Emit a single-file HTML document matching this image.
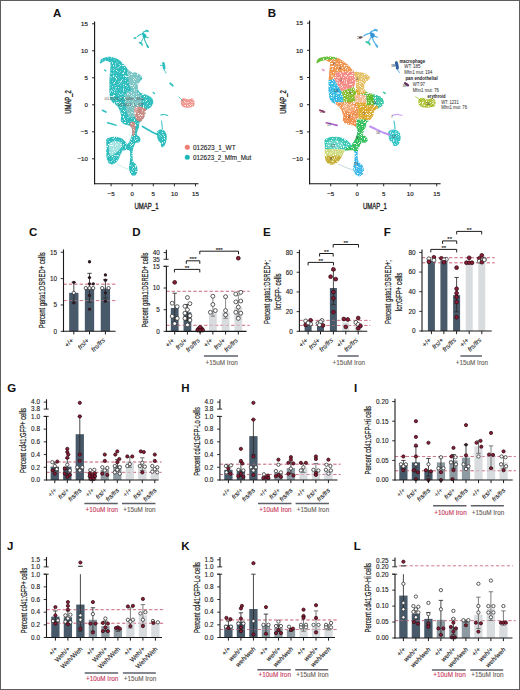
<!DOCTYPE html>
<html><head><meta charset="utf-8"><style>
html,body{margin:0;padding:0;background:#fff;width:520px;height:690px;overflow:hidden}
svg{display:block}
text{font-family:"Liberation Sans", sans-serif}
</style></head><body>
<svg width="520" height="690" viewBox="0 0 520 690">
<rect x="0.5" y="0.5" width="519" height="689" fill="#fff" stroke="#5e5e5e" stroke-width="1"/>
<clipPath id="clipA"><path d="M100.00 63.80 C99.72 63.48 99.88 61.43 100.30 60.50 C100.72 59.57 101.55 58.75 102.50 58.20 C103.45 57.65 104.58 57.42 106.00 57.20 C107.42 56.98 109.42 56.77 111.00 56.90 C112.58 57.03 113.92 57.32 115.50 58.00 C117.08 58.68 118.92 59.75 120.50 61.00 C122.08 62.25 123.67 64.00 125.00 65.50 C126.33 67.00 127.42 68.92 128.50 70.00 C129.58 71.08 130.33 71.57 131.50 72.00 C132.67 72.43 134.17 72.18 135.50 72.60 C136.83 73.02 138.37 73.60 139.50 74.50 C140.63 75.40 142.22 76.83 142.30 78.00 C142.38 79.17 140.72 80.42 140.00 81.50 C139.28 82.58 138.33 83.25 138.00 84.50 C137.67 85.75 137.67 87.67 138.00 89.00 C138.33 90.33 138.92 91.63 140.00 92.50 C141.08 93.37 143.08 93.70 144.50 94.20 C145.92 94.70 147.20 94.78 148.50 95.50 C149.80 96.22 151.50 97.17 152.30 98.50 C153.10 99.83 153.60 102.00 153.30 103.50 C153.00 105.00 151.72 106.33 150.50 107.50 C149.28 108.67 146.92 109.17 146.00 110.50 C145.08 111.83 145.67 113.83 145.00 115.50 C144.33 117.17 142.92 119.25 142.00 120.50 C141.08 121.75 140.00 121.92 139.50 123.00 C139.00 124.08 139.33 125.67 139.00 127.00 C138.67 128.33 137.83 129.75 137.50 131.00 C137.17 132.25 136.67 133.50 137.00 134.50 C137.33 135.50 138.92 136.00 139.50 137.00 C140.08 138.00 140.67 139.58 140.50 140.50 C140.33 141.42 139.33 142.08 138.50 142.50 C137.67 142.92 136.25 142.33 135.50 143.00 C134.75 143.67 134.45 145.33 134.00 146.50 C133.55 147.67 133.03 148.25 132.80 150.00 C132.57 151.75 132.48 155.00 132.60 157.00 C132.72 159.00 132.93 160.75 133.50 162.00 C134.07 163.25 135.33 163.33 136.00 164.50 C136.67 165.67 137.42 167.42 137.50 169.00 C137.58 170.58 137.17 172.83 136.50 174.00 C135.83 175.17 134.50 176.08 133.50 176.00 C132.50 175.92 131.25 174.83 130.50 173.50 C129.75 172.17 129.12 169.92 129.00 168.00 C128.88 166.08 129.60 164.17 129.80 162.00 C130.00 159.83 130.25 156.92 130.20 155.00 C130.15 153.08 130.12 151.33 129.50 150.50 C128.88 149.67 127.58 150.00 126.50 150.00 C125.42 150.00 123.17 151.17 123.00 150.50 C122.83 149.83 124.58 147.25 125.50 146.00 C126.42 144.75 127.67 144.17 128.50 143.00 C129.33 141.83 129.92 140.50 130.50 139.00 C131.08 137.50 131.75 135.67 132.00 134.00 C132.25 132.33 132.33 130.33 132.00 129.00 C131.67 127.67 131.17 126.75 130.00 126.00 C128.83 125.25 126.50 125.25 125.00 124.50 C123.50 123.75 121.67 122.92 121.00 121.50 C120.33 120.08 121.25 117.92 121.00 116.00 C120.75 114.08 120.25 111.75 119.50 110.00 C118.75 108.25 117.83 106.92 116.50 105.50 C115.17 104.08 112.62 103.08 111.50 101.50 C110.38 99.92 110.17 98.42 109.80 96.00 C109.43 93.58 109.32 90.33 109.30 87.00 C109.28 83.67 109.50 79.50 109.70 76.00 C109.90 72.50 110.42 68.13 110.50 66.00 C110.58 63.87 110.62 63.98 110.20 63.20 C109.78 62.42 108.95 61.63 108.00 61.30 C107.05 60.97 105.50 61.02 104.50 61.20 C103.50 61.38 102.75 61.97 102.00 62.40 C101.25 62.83 100.28 64.12 100.00 63.80Z"/><path d="M106.20 140.00 C106.53 138.42 107.67 138.52 108.50 138.00 C109.33 137.48 109.70 137.08 111.20 136.90 C112.70 136.72 115.70 136.63 117.50 136.90 C119.30 137.17 120.75 137.78 122.00 138.50 C123.25 139.22 124.08 140.12 125.00 141.20 C125.92 142.28 127.42 143.95 127.50 145.00 C127.58 146.05 126.33 146.58 125.50 147.50 C124.67 148.42 123.42 149.05 122.50 150.50 C121.58 151.95 121.05 154.20 120.00 156.20 C118.95 158.20 117.67 161.13 116.20 162.50 C114.73 163.87 112.65 164.62 111.20 164.40 C109.75 164.18 108.33 162.97 107.50 161.20 C106.67 159.43 106.37 156.08 106.20 153.80 C106.03 151.52 106.50 149.80 106.50 147.50 C106.50 145.20 105.87 141.58 106.20 140.00Z"/><path d="M157.50 131.00 C158.25 130.08 160.17 129.33 161.50 129.50 C162.83 129.67 164.62 130.75 165.50 132.00 C166.38 133.25 166.72 135.33 166.80 137.00 C166.88 138.67 166.47 140.42 166.00 142.00 C165.53 143.58 164.75 145.67 164.00 146.50 C163.25 147.33 162.08 147.58 161.50 147.00 C160.92 146.42 161.08 144.17 160.50 143.00 C159.92 141.83 158.58 141.33 158.00 140.00 C157.42 138.67 157.08 136.50 157.00 135.00 C156.92 133.50 156.75 131.92 157.50 131.00Z"/><path d="M181.10 100.00 C181.52 98.75 182.85 98.08 184.00 98.00 C185.15 97.92 186.67 99.42 188.00 99.50 C189.33 99.58 190.93 98.25 192.00 98.50 C193.07 98.75 194.07 99.75 194.40 101.00 C194.73 102.25 194.73 104.92 194.00 106.00 C193.27 107.08 191.50 107.25 190.00 107.50 C188.50 107.75 186.42 107.83 185.00 107.50 C183.58 107.17 182.15 106.75 181.50 105.50 C180.85 104.25 180.68 101.25 181.10 100.00Z"/></clipPath>
<filter id="spkA" x="0" y="0" width="1" height="1"><feTurbulence type="fractalNoise" baseFrequency="0.9" numOctaves="2" seed="3" result="n"/><feColorMatrix in="n" type="matrix" values="0 0 0 0 0  0 0 0 0 0  0 0 0 0 0  0 0 0 -5 3.8" result="m"/><feComposite in="SourceGraphic" in2="m" operator="in"/></filter>
<g filter="url(#spkA)">
<path d="M100.00 63.80 C99.72 63.48 99.88 61.43 100.30 60.50 C100.72 59.57 101.55 58.75 102.50 58.20 C103.45 57.65 104.58 57.42 106.00 57.20 C107.42 56.98 109.42 56.77 111.00 56.90 C112.58 57.03 113.92 57.32 115.50 58.00 C117.08 58.68 118.92 59.75 120.50 61.00 C122.08 62.25 123.67 64.00 125.00 65.50 C126.33 67.00 127.42 68.92 128.50 70.00 C129.58 71.08 130.33 71.57 131.50 72.00 C132.67 72.43 134.17 72.18 135.50 72.60 C136.83 73.02 138.37 73.60 139.50 74.50 C140.63 75.40 142.22 76.83 142.30 78.00 C142.38 79.17 140.72 80.42 140.00 81.50 C139.28 82.58 138.33 83.25 138.00 84.50 C137.67 85.75 137.67 87.67 138.00 89.00 C138.33 90.33 138.92 91.63 140.00 92.50 C141.08 93.37 143.08 93.70 144.50 94.20 C145.92 94.70 147.20 94.78 148.50 95.50 C149.80 96.22 151.50 97.17 152.30 98.50 C153.10 99.83 153.60 102.00 153.30 103.50 C153.00 105.00 151.72 106.33 150.50 107.50 C149.28 108.67 146.92 109.17 146.00 110.50 C145.08 111.83 145.67 113.83 145.00 115.50 C144.33 117.17 142.92 119.25 142.00 120.50 C141.08 121.75 140.00 121.92 139.50 123.00 C139.00 124.08 139.33 125.67 139.00 127.00 C138.67 128.33 137.83 129.75 137.50 131.00 C137.17 132.25 136.67 133.50 137.00 134.50 C137.33 135.50 138.92 136.00 139.50 137.00 C140.08 138.00 140.67 139.58 140.50 140.50 C140.33 141.42 139.33 142.08 138.50 142.50 C137.67 142.92 136.25 142.33 135.50 143.00 C134.75 143.67 134.45 145.33 134.00 146.50 C133.55 147.67 133.03 148.25 132.80 150.00 C132.57 151.75 132.48 155.00 132.60 157.00 C132.72 159.00 132.93 160.75 133.50 162.00 C134.07 163.25 135.33 163.33 136.00 164.50 C136.67 165.67 137.42 167.42 137.50 169.00 C137.58 170.58 137.17 172.83 136.50 174.00 C135.83 175.17 134.50 176.08 133.50 176.00 C132.50 175.92 131.25 174.83 130.50 173.50 C129.75 172.17 129.12 169.92 129.00 168.00 C128.88 166.08 129.60 164.17 129.80 162.00 C130.00 159.83 130.25 156.92 130.20 155.00 C130.15 153.08 130.12 151.33 129.50 150.50 C128.88 149.67 127.58 150.00 126.50 150.00 C125.42 150.00 123.17 151.17 123.00 150.50 C122.83 149.83 124.58 147.25 125.50 146.00 C126.42 144.75 127.67 144.17 128.50 143.00 C129.33 141.83 129.92 140.50 130.50 139.00 C131.08 137.50 131.75 135.67 132.00 134.00 C132.25 132.33 132.33 130.33 132.00 129.00 C131.67 127.67 131.17 126.75 130.00 126.00 C128.83 125.25 126.50 125.25 125.00 124.50 C123.50 123.75 121.67 122.92 121.00 121.50 C120.33 120.08 121.25 117.92 121.00 116.00 C120.75 114.08 120.25 111.75 119.50 110.00 C118.75 108.25 117.83 106.92 116.50 105.50 C115.17 104.08 112.62 103.08 111.50 101.50 C110.38 99.92 110.17 98.42 109.80 96.00 C109.43 93.58 109.32 90.33 109.30 87.00 C109.28 83.67 109.50 79.50 109.70 76.00 C109.90 72.50 110.42 68.13 110.50 66.00 C110.58 63.87 110.62 63.98 110.20 63.20 C109.78 62.42 108.95 61.63 108.00 61.30 C107.05 60.97 105.50 61.02 104.50 61.20 C103.50 61.38 102.75 61.97 102.00 62.40 C101.25 62.83 100.28 64.12 100.00 63.80Z" fill="#1cb8b8" opacity="0.92"/>
<path d="M106.20 140.00 C106.53 138.42 107.67 138.52 108.50 138.00 C109.33 137.48 109.70 137.08 111.20 136.90 C112.70 136.72 115.70 136.63 117.50 136.90 C119.30 137.17 120.75 137.78 122.00 138.50 C123.25 139.22 124.08 140.12 125.00 141.20 C125.92 142.28 127.42 143.95 127.50 145.00 C127.58 146.05 126.33 146.58 125.50 147.50 C124.67 148.42 123.42 149.05 122.50 150.50 C121.58 151.95 121.05 154.20 120.00 156.20 C118.95 158.20 117.67 161.13 116.20 162.50 C114.73 163.87 112.65 164.62 111.20 164.40 C109.75 164.18 108.33 162.97 107.50 161.20 C106.67 159.43 106.37 156.08 106.20 153.80 C106.03 151.52 106.50 149.80 106.50 147.50 C106.50 145.20 105.87 141.58 106.20 140.00Z" fill="#1cb8b8" opacity="0.92"/>
<path d="M157.50 131.00 C158.25 130.08 160.17 129.33 161.50 129.50 C162.83 129.67 164.62 130.75 165.50 132.00 C166.38 133.25 166.72 135.33 166.80 137.00 C166.88 138.67 166.47 140.42 166.00 142.00 C165.53 143.58 164.75 145.67 164.00 146.50 C163.25 147.33 162.08 147.58 161.50 147.00 C160.92 146.42 161.08 144.17 160.50 143.00 C159.92 141.83 158.58 141.33 158.00 140.00 C157.42 138.67 157.08 136.50 157.00 135.00 C156.92 133.50 156.75 131.92 157.50 131.00Z" fill="#1cb8b8" opacity="0.92"/>
<g clip-path="url(#clipA)">
<path d="M134.50 107.50 C135.58 106.13 139.00 106.47 141.00 106.80 C143.00 107.13 145.58 107.97 146.50 109.50 C147.42 111.03 147.00 114.17 146.50 116.00 C146.00 117.83 145.00 119.67 143.50 120.50 C142.00 121.33 139.00 121.92 137.50 121.00 C136.00 120.08 135.00 117.25 134.50 115.00 C134.00 112.75 133.42 108.87 134.50 107.50Z" fill="#ef7d73" opacity="0.8"/>
<path d="M130.00 123.00 C130.67 121.58 133.58 121.50 134.50 122.50 C135.42 123.50 135.67 126.75 135.50 129.00 C135.33 131.25 134.33 135.67 133.50 136.00 C132.67 136.33 131.08 133.17 130.50 131.00 C129.92 128.83 129.33 124.42 130.00 123.00Z" fill="#ef7d73" opacity="0.8"/>
<path d="M176.00 94.00 C180.00 91.00 196.00 91.00 200.00 94.00 C204.00 97.00 204.00 109.00 200.00 112.00 C196.00 115.00 180.00 115.00 176.00 112.00 C172.00 109.00 172.00 97.00 176.00 94.00Z" fill="#ef7d73" opacity="0.8"/>
<path d="M126.00 93.00 C127.25 90.83 130.67 90.83 133.00 91.00 C135.33 91.17 138.58 92.00 140.00 94.00 C141.42 96.00 141.83 100.50 141.50 103.00 C141.17 105.50 139.25 106.67 138.00 109.00 C136.75 111.33 135.67 116.00 134.00 117.00 C132.33 118.00 129.42 117.17 128.00 115.00 C126.58 112.83 125.83 107.67 125.50 104.00 C125.17 100.33 124.75 95.17 126.00 93.00Z" fill="#f6d0d0" opacity="0.4"/>
<path d="M127.50 69.00 C127.92 67.67 129.58 71.40 131.00 72.00 C132.42 72.60 134.33 71.93 136.00 72.60 C137.67 73.27 140.50 74.10 141.00 76.00 C141.50 77.90 139.42 81.67 139.00 84.00 C138.58 86.33 139.25 88.75 138.50 90.00 C137.75 91.25 135.83 91.83 134.50 91.50 C133.17 91.17 131.50 89.92 130.50 88.00 C129.50 86.08 129.00 83.17 128.50 80.00 C128.00 76.83 127.08 70.33 127.50 69.00Z" fill="#f6d0d0" opacity="0.4"/>
<path d="M109.50 143.50 C110.50 142.00 113.00 141.08 115.00 141.00 C117.00 140.92 120.58 141.75 121.50 143.00 C122.42 144.25 121.58 146.75 120.50 148.50 C119.42 150.25 116.67 152.25 115.00 153.50 C113.33 154.75 111.50 156.58 110.50 156.00 C109.50 155.42 109.17 152.08 109.00 150.00 C108.83 147.92 108.50 145.00 109.50 143.50Z" fill="#fff" opacity="0.55"/>
</g>
</g>
</g>
<path d="M137.50 36.50 C137.88 36.22 138.88 35.27 139.80 34.80 C140.72 34.33 142.27 33.50 143.00 33.70 C143.73 33.90 143.33 35.33 144.20 36.00 C145.07 36.67 147.53 37.42 148.20 37.70" fill="none" stroke="#1cb8b8" stroke-width="1.10" stroke-linecap="round" stroke-linejoin="round" opacity="0.9"/>
<path d="M147.00 30.80 C146.33 31.08 143.47 31.63 143.00 32.50 C142.53 33.37 143.92 34.75 144.20 36.00 C144.48 37.25 144.32 38.67 144.70 40.00 C145.08 41.33 145.92 42.75 146.50 44.00 C147.08 45.25 147.92 46.92 148.20 47.50" fill="none" stroke="#1cb8b8" stroke-width="1.10" stroke-linecap="round" stroke-linejoin="round" opacity="0.9"/>
<path d="M144.20 36.00 C143.92 36.58 143.10 38.28 142.50 39.50 C141.90 40.72 140.92 42.67 140.60 43.30" fill="none" stroke="#1cb8b8" stroke-width="1.00" stroke-linecap="round" stroke-linejoin="round" opacity="0.9"/>
<path d="M143.20 34.20 C143.53 34.37 144.98 34.70 145.20 35.20 C145.42 35.70 144.78 37.03 144.50 37.20 C144.22 37.37 143.67 36.37 143.50 36.20" fill="none" stroke="#1cb8b8" stroke-width="2.20" stroke-linecap="round" stroke-linejoin="round" opacity="0.9"/>
<path d="M146.20 30.50 L148.00 31.20" fill="none" stroke="#1cb8b8" stroke-width="1.80" stroke-linecap="round" stroke-linejoin="round" opacity="0.9"/>
<path d="M147.20 45.50 L148.20 47.20" fill="none" stroke="#1cb8b8" stroke-width="1.60" stroke-linecap="round" stroke-linejoin="round" opacity="0.9"/>
<path d="M134.30 38.20 L135.80 37.80" fill="none" stroke="#1cb8b8" stroke-width="1.60" stroke-linecap="round" stroke-linejoin="round" opacity="0.9"/>
<path d="M139.50 42.50 C139.83 42.67 141.05 43.08 141.50 43.50 C141.95 43.92 142.08 44.75 142.20 45.00" fill="none" stroke="#1cb8b8" stroke-width="1.60" stroke-linecap="round" stroke-linejoin="round" opacity="0.9"/>
<path d="M160.30 65.30 C160.62 65.35 161.67 65.48 162.20 65.60 C162.73 65.72 163.28 65.93 163.50 66.00" fill="none" stroke="#1cb8b8" stroke-width="0.90" stroke-linecap="round" stroke-linejoin="round" opacity="0.9"/>
<path d="M164.00 69.50 C164.17 69.80 164.67 70.72 165.00 71.30 C165.33 71.88 165.83 72.72 166.00 73.00" fill="none" stroke="#1cb8b8" stroke-width="0.90" stroke-linecap="round" stroke-linejoin="round" opacity="0.9"/>
<path d="M163.40 63.20 C163.48 63.63 163.77 64.95 163.90 65.80 C164.03 66.65 164.15 67.88 164.20 68.30" fill="none" stroke="#1cb8b8" stroke-width="2.60" stroke-linecap="round" stroke-linejoin="round" opacity="0.9"/>
<path d="M160.80 115.00 C161.37 114.92 163.03 114.42 164.20 114.50 C165.37 114.58 167.20 115.33 167.80 115.50" fill="none" stroke="#1cb8b8" stroke-width="1.10" stroke-linecap="round" stroke-linejoin="round" opacity="0.9"/>
<path d="M102.50 110.30 C102.83 110.45 103.92 110.92 104.50 111.20 C105.08 111.48 105.75 111.87 106.00 112.00" fill="none" stroke="#1cb8b8" stroke-width="1.70" stroke-linecap="round" stroke-linejoin="round" opacity="0.9"/>
<path d="M107.50 122.80 C108.25 123.00 110.55 123.58 112.00 124.00 C113.45 124.42 115.50 125.08 116.20 125.30" fill="none" stroke="#1cb8b8" stroke-width="1.40" stroke-linecap="round" stroke-linejoin="round" opacity="0.9"/>
<path d="M142.50 126.50 C143.17 126.88 144.92 127.88 146.50 128.80 C148.08 129.72 150.08 131.03 152.00 132.00 C153.92 132.97 157.00 134.17 158.00 134.60" fill="none" stroke="#1cb8b8" stroke-width="1.80" stroke-linecap="round" stroke-linejoin="round" opacity="0.9"/>
<path d="M161.50 121.00 C161.58 121.67 161.87 123.67 162.00 125.00 C162.13 126.33 162.25 128.33 162.30 129.00" fill="none" stroke="#1cb8b8" stroke-width="1.00" stroke-linecap="round" stroke-linejoin="round" opacity="0.9"/>
<path d="M117.50 163.80 C118.42 164.33 120.92 165.97 123.00 167.00 C125.08 168.03 128.83 169.50 130.00 170.00" fill="none" stroke="#8cc" stroke-width="0.45" stroke-linecap="round" stroke-linejoin="round" opacity="0.9"/>
<path d="M104.50 70.00 L105.80 70.80" fill="none" stroke="#1cb8b8" stroke-width="1.40" stroke-linecap="round" stroke-linejoin="round" opacity="0.9"/>
<path d="M153.20 92.50 L154.50 93.60" fill="none" stroke="#1cb8b8" stroke-width="1.30" stroke-linecap="round" stroke-linejoin="round" opacity="0.9"/>
<path d="M170.30 83.40 C170.52 83.58 171.20 84.13 171.60 84.50 C172.00 84.87 172.52 85.42 172.70 85.60" fill="none" stroke="#1cb8b8" stroke-width="2.00" stroke-linecap="round" stroke-linejoin="round" opacity="0.9"/>
<path d="M178.80 97.00 C179.08 97.25 179.88 97.92 180.50 98.50 C181.12 99.08 182.17 100.17 182.50 100.50" fill="none" stroke="#1aa" stroke-width="0.80" stroke-linecap="round" stroke-linejoin="round" opacity="0.9"/>
<line x1="94.60" y1="21.50" x2="94.60" y2="184.20" stroke="#111" stroke-width="1.1"/>
<line x1="94.10" y1="183.70" x2="198.50" y2="183.70" stroke="#111" stroke-width="1.1"/>
<line x1="111.10" y1="183.70" x2="111.10" y2="186.30" stroke="#111" stroke-width="0.9"/>
<text x="111.10" y="196.00" font-size="6.1" text-anchor="middle" fill="#222" stroke="#222" stroke-width="0.18">−5</text>
<line x1="132.20" y1="183.70" x2="132.20" y2="186.30" stroke="#111" stroke-width="0.9"/>
<text x="132.20" y="196.00" font-size="6.1" text-anchor="middle" fill="#222" stroke="#222" stroke-width="0.18">0</text>
<line x1="153.30" y1="183.70" x2="153.30" y2="186.30" stroke="#111" stroke-width="0.9"/>
<text x="153.30" y="196.00" font-size="6.1" text-anchor="middle" fill="#222" stroke="#222" stroke-width="0.18">5</text>
<line x1="174.40" y1="183.70" x2="174.40" y2="186.30" stroke="#111" stroke-width="0.9"/>
<text x="174.40" y="196.00" font-size="6.1" text-anchor="middle" fill="#222" stroke="#222" stroke-width="0.18">10</text>
<line x1="195.50" y1="183.70" x2="195.50" y2="186.30" stroke="#111" stroke-width="0.9"/>
<text x="195.50" y="196.00" font-size="6.1" text-anchor="middle" fill="#222" stroke="#222" stroke-width="0.18">15</text>
<line x1="92.00" y1="158.80" x2="94.60" y2="158.80" stroke="#111" stroke-width="0.9"/>
<text x="87.80" y="161.00" font-size="6.1" text-anchor="end" fill="#222" stroke="#222" stroke-width="0.18">−10</text>
<line x1="92.00" y1="131.80" x2="94.60" y2="131.80" stroke="#111" stroke-width="0.9"/>
<text x="87.80" y="134.00" font-size="6.1" text-anchor="end" fill="#222" stroke="#222" stroke-width="0.18">−5</text>
<line x1="92.00" y1="104.80" x2="94.60" y2="104.80" stroke="#111" stroke-width="0.9"/>
<text x="87.80" y="107.00" font-size="6.1" text-anchor="end" fill="#222" stroke="#222" stroke-width="0.18">0</text>
<line x1="92.00" y1="77.80" x2="94.60" y2="77.80" stroke="#111" stroke-width="0.9"/>
<text x="87.80" y="80.00" font-size="6.1" text-anchor="end" fill="#222" stroke="#222" stroke-width="0.18">5</text>
<line x1="92.00" y1="50.80" x2="94.60" y2="50.80" stroke="#111" stroke-width="0.9"/>
<text x="87.80" y="53.00" font-size="6.1" text-anchor="end" fill="#222" stroke="#222" stroke-width="0.18">10</text>
<line x1="92.00" y1="23.80" x2="94.60" y2="23.80" stroke="#111" stroke-width="0.9"/>
<text x="87.80" y="26.00" font-size="6.1" text-anchor="end" fill="#222" stroke="#222" stroke-width="0.18">15</text>
<text x="53.00" y="17.30" font-size="11.5" font-weight="bold" fill="#111">A</text>
<text x="146.50" y="209.00" font-size="9" text-anchor="middle" fill="#222" stroke="#222" stroke-width="0.35" textLength="24" lengthAdjust="spacingAndGlyphs">UMAP_1</text>
<text x="0" y="0" font-size="8.4" text-anchor="middle" fill="#222" stroke="#222" stroke-width="0.35" textLength="23.4" lengthAdjust="spacingAndGlyphs" transform="translate(70.90 102.00) rotate(-90)">UMAP_2</text>
<text x="104.4" y="99.6" font-size="4.4" fill="#555" textLength="39.4" lengthAdjust="spacingAndGlyphs">012623_2_Mfm_Mut</text>
<text x="118.5" y="106.1" font-size="4.4" fill="#555" textLength="25.5" lengthAdjust="spacingAndGlyphs">012623_1_WT</text>
<circle cx="187.3" cy="147.3" r="2.5" fill="#ef7d73"/>
<circle cx="187.3" cy="157.2" r="2.5" fill="#1cb8b8"/>
<text x="193" y="149.6" font-size="6.5" fill="#222" stroke="#222" stroke-width="0.12" textLength="42.7" lengthAdjust="spacingAndGlyphs">012623_1_WT</text>
<text x="193" y="159.5" font-size="6.5" fill="#222" stroke="#222" stroke-width="0.12" textLength="58.3" lengthAdjust="spacingAndGlyphs">012623_2_Mfm_Mut</text>
<clipPath id="clipB"><path d="M316.76 63.40 C316.40 63.08 316.61 61.01 317.13 60.07 C317.66 59.13 318.70 58.31 319.90 57.76 C321.09 57.20 322.51 56.97 324.29 56.75 C326.07 56.53 328.58 56.31 330.57 56.45 C332.56 56.58 334.24 56.87 336.22 57.55 C338.21 58.24 340.52 59.32 342.50 60.58 C344.49 61.84 346.48 63.60 348.16 65.11 C349.83 66.62 351.19 68.55 352.55 69.64 C353.91 70.73 354.86 71.22 356.32 71.66 C357.79 72.09 359.67 71.84 361.34 72.26 C363.02 72.68 364.95 73.27 366.37 74.18 C367.79 75.08 369.78 76.53 369.89 77.70 C369.99 78.88 367.90 80.14 367.00 81.23 C366.10 82.32 364.90 82.99 364.48 84.25 C364.07 85.51 364.07 87.44 364.48 88.78 C364.90 90.13 365.64 91.44 367.00 92.31 C368.36 93.18 370.87 93.52 372.65 94.02 C374.43 94.53 376.04 94.61 377.67 95.33 C379.31 96.05 381.44 97.01 382.45 98.35 C383.45 99.70 384.08 101.88 383.70 103.39 C383.32 104.90 381.71 106.24 380.18 107.42 C378.66 108.60 375.68 109.10 374.53 110.44 C373.38 111.79 374.11 113.80 373.28 115.48 C372.44 117.16 370.66 119.26 369.51 120.52 C368.36 121.78 367.00 121.94 366.37 123.03 C365.74 124.13 366.16 125.72 365.74 127.06 C365.32 128.41 364.28 129.83 363.86 131.09 C363.44 132.35 362.81 133.61 363.23 134.62 C363.65 135.63 365.64 136.13 366.37 137.14 C367.10 138.15 367.83 139.74 367.62 140.66 C367.42 141.59 366.16 142.26 365.11 142.68 C364.07 143.10 362.29 142.51 361.34 143.18 C360.40 143.85 360.03 145.53 359.46 146.71 C358.90 147.88 358.25 148.47 357.95 150.23 C357.66 152.00 357.56 155.27 357.70 157.29 C357.85 159.30 358.12 161.06 358.83 162.32 C359.54 163.58 361.14 163.67 361.97 164.84 C362.81 166.02 363.75 167.78 363.86 169.38 C363.96 170.97 363.44 173.24 362.60 174.41 C361.76 175.59 360.09 176.51 358.83 176.43 C357.58 176.34 356.01 175.25 355.06 173.91 C354.12 172.57 353.33 170.30 353.18 168.37 C353.03 166.44 353.93 164.51 354.19 162.32 C354.44 160.14 354.75 157.20 354.69 155.27 C354.63 153.34 354.58 151.58 353.81 150.74 C353.03 149.90 351.40 150.23 350.04 150.23 C348.68 150.23 345.85 151.41 345.64 150.74 C345.44 150.07 347.63 147.46 348.78 146.20 C349.94 144.95 351.51 144.36 352.55 143.18 C353.60 142.01 354.33 140.66 355.06 139.15 C355.80 137.64 356.63 135.80 356.95 134.12 C357.26 132.44 357.37 130.42 356.95 129.08 C356.53 127.74 355.90 126.81 354.44 126.06 C352.97 125.30 350.04 125.30 348.16 124.55 C346.27 123.79 343.97 122.95 343.13 121.52 C342.30 120.10 343.45 117.91 343.13 115.98 C342.82 114.05 342.19 111.70 341.25 109.94 C340.31 108.18 339.16 106.83 337.48 105.41 C335.81 103.98 332.60 102.97 331.20 101.38 C329.80 99.78 329.53 98.27 329.07 95.83 C328.61 93.40 328.46 90.13 328.44 86.77 C328.42 83.41 328.69 79.21 328.94 75.69 C329.19 72.16 329.84 67.76 329.94 65.61 C330.05 63.46 330.09 63.58 329.57 62.79 C329.04 62.00 328.00 61.21 326.80 60.88 C325.61 60.54 323.66 60.59 322.41 60.78 C321.15 60.96 320.21 61.55 319.27 61.99 C318.33 62.42 317.11 63.72 316.76 63.40Z"/><path d="M324.54 140.16 C324.96 138.57 326.39 138.67 327.43 138.15 C328.48 137.63 328.94 137.22 330.82 137.04 C332.71 136.85 336.48 136.77 338.74 137.04 C341.00 137.31 342.82 137.93 344.39 138.65 C345.96 139.37 347.01 140.28 348.16 141.37 C349.31 142.46 351.19 144.14 351.30 145.20 C351.40 146.26 349.83 146.79 348.78 147.72 C347.74 148.64 346.17 149.28 345.02 150.74 C343.87 152.20 343.20 154.47 341.88 156.48 C340.56 158.50 338.95 161.45 337.10 162.83 C335.26 164.20 332.65 164.96 330.82 164.74 C329.00 164.52 327.22 163.30 326.18 161.52 C325.13 159.74 324.75 156.36 324.54 154.06 C324.33 151.76 324.92 150.03 324.92 147.72 C324.92 145.40 324.13 141.76 324.54 140.16Z"/><path d="M388.98 131.09 C389.92 130.17 392.33 129.41 394.00 129.58 C395.68 129.75 397.92 130.84 399.02 132.10 C400.13 133.36 400.55 135.46 400.66 137.14 C400.76 138.82 400.24 140.58 399.65 142.18 C399.07 143.77 398.08 145.87 397.14 146.71 C396.20 147.55 394.73 147.80 394.00 147.21 C393.27 146.62 393.48 144.36 392.74 143.18 C392.01 142.01 390.34 141.50 389.60 140.16 C388.87 138.82 388.45 136.63 388.35 135.12 C388.24 133.61 388.03 132.02 388.98 131.09Z"/><path d="M418.62 99.86 C419.14 98.61 420.82 97.93 422.26 97.85 C423.71 97.77 425.61 99.28 427.28 99.36 C428.96 99.44 430.97 98.10 432.31 98.35 C433.65 98.61 434.90 99.61 435.32 100.87 C435.74 102.13 435.74 104.82 434.82 105.91 C433.90 107.00 431.68 107.17 429.80 107.42 C427.91 107.67 425.30 107.76 423.52 107.42 C421.74 107.08 419.94 106.66 419.12 105.41 C418.30 104.15 418.10 101.12 418.62 99.86Z"/></clipPath>
<filter id="spkB" x="0" y="0" width="1" height="1"><feTurbulence type="fractalNoise" baseFrequency="0.9" numOctaves="2" seed="7" result="n"/><feColorMatrix in="n" type="matrix" values="0 0 0 0 0  0 0 0 0 0  0 0 0 0 0  0 0 0 -5 3.7" result="m"/><feComposite in="SourceGraphic" in2="m" operator="in"/></filter>
<g filter="url(#spkB)">
<g clip-path="url(#clipB)" opacity="0.9">
<path d="M326.00 56.00 L338.00 56.00 L347.00 60.00 L353.00 66.00 L354.00 71.50 L345.00 72.00 L336.00 72.30 L334.00 79.00 L330.50 80.00 L326.00 80.00 Z" fill="#ef8a3c"/>
<path d="M336.00 72.30 L345.00 72.00 L354.00 71.50 L356.00 80.00 L354.00 87.00 L348.00 89.00 L341.30 91.50 L334.00 79.00 Z" fill="#f47f78"/>
<path d="M326.00 80.00 L330.50 80.00 L334.00 79.00 L341.30 91.50 L343.00 96.00 L343.70 103.70 L338.00 106.00 L326.00 106.00 Z" fill="#1fb3e0"/>
<path d="M341.30 91.50 L348.00 89.00 L354.00 87.00 L356.00 92.00 L356.00 101.00 L350.00 103.00 L343.70 103.70 L343.00 96.00 Z" fill="#7bb51a"/>
<path d="M354.00 71.50 L353.00 66.00 L360.00 64.00 L375.00 66.00 L376.00 92.00 L366.00 93.00 L358.00 95.50 L356.00 92.00 L356.00 80.00 Z" fill="#dba31c"/>
<path d="M358.00 95.50 L366.00 93.00 L368.00 97.00 L366.70 103.00 L362.00 104.00 L357.00 101.00 Z" fill="#46b93c"/>
<path d="M354.00 95.00 L366.70 95.00 L366.70 105.60 L356.00 104.00 Z" fill="#f4b48a"/>
<path d="M366.70 93.00 L390.00 93.00 L390.00 112.00 L368.00 111.00 L366.70 106.00 Z" fill="#23c19e"/>
<path d="M336.00 102.00 L356.00 102.50 L358.20 108.00 L358.20 117.00 L356.50 120.00 L356.30 128.50 L345.00 128.50 L336.00 116.00 Z" fill="#f0843c"/>
<path d="M356.00 102.50 L368.00 103.00 L378.00 106.00 L378.00 120.00 L365.00 120.00 L358.20 118.50 L358.20 108.00 Z" fill="#d7a11a"/>
<path d="M356.50 119.50 L365.00 119.50 L372.00 122.00 L372.00 150.00 L344.00 153.00 L345.00 128.50 L356.30 128.50 Z" fill="#1fba4e"/>
<path d="M318.00 133.00 L346.00 133.00 L352.00 146.00 L342.00 150.00 L318.00 150.00 Z" fill="#22c3ae"/>
<path d="M318.00 149.00 L342.00 149.00 L346.00 152.00 L344.00 155.50 L318.00 155.50 Z" fill="#c8d870"/>
<path d="M318.00 155.50 L348.00 155.50 L348.00 170.00 L318.00 170.00 Z" fill="#bfa61f"/>
<path d="M346.00 151.00 L370.00 151.00 L370.00 182.00 L346.00 182.00 Z" fill="#28b2ea"/>
<path d="M380.00 120.00 L405.00 120.00 L405.00 146.00 L380.00 146.00 Z" fill="#1ec0c0"/>
<path d="M412.00 92.00 L440.00 92.00 L440.00 112.00 L412.00 112.00 Z" fill="#a9bd26"/>
<path d="M365.00 90.50 L373.00 91.50 L374.00 104.00 L366.70 105.60 L366.70 95.00 Z" fill="#4fb51a"/>
<path d="M312.00 53.00 L337.00 53.00 L337.00 58.90 L330.00 59.60 L324.00 60.50 L320.00 62.50 L319.00 66.00 L312.00 66.00 Z" fill="#58b824"/>
<path d="M355.00 70.00 C356.00 67.00 359.83 67.50 362.00 68.00 C364.17 68.50 366.83 70.67 368.00 73.00 C369.17 75.33 369.33 79.17 369.00 82.00 C368.67 84.83 367.50 88.33 366.00 90.00 C364.50 91.67 361.67 92.67 360.00 92.00 C358.33 91.33 356.83 89.67 356.00 86.00 C355.17 82.33 354.00 73.00 355.00 70.00Z" fill="#fff" opacity="0.25"/>
<path d="M328.00 142.00 C329.50 140.92 333.50 140.33 336.00 140.50 C338.50 140.67 342.17 141.75 343.00 143.00 C343.83 144.25 342.67 146.83 341.00 148.00 C339.33 149.17 335.33 150.17 333.00 150.00 C330.67 149.83 327.83 148.33 327.00 147.00 C326.17 145.67 326.50 143.08 328.00 142.00Z" fill="#fff" opacity="0.25"/>
<path d="M343.00 104.00 C344.33 103.00 349.83 103.33 352.00 104.00 C354.17 104.67 356.17 106.67 356.00 108.00 C355.83 109.33 353.00 111.67 351.00 112.00 C349.00 112.33 345.33 111.33 344.00 110.00 C342.67 108.67 341.67 105.00 343.00 104.00Z" fill="#fff" opacity="0.25"/>
</g>
</g>
<path d="M363.86 35.89 C364.34 35.61 365.59 34.65 366.75 34.18 C367.90 33.71 369.84 32.87 370.76 33.07 C371.69 33.28 371.18 34.72 372.27 35.39 C373.36 36.06 376.46 36.82 377.30 37.10" fill="none" stroke="#45ade6" stroke-width="1.26" stroke-linecap="round" stroke-linejoin="round" opacity="0.9"/>
<path d="M375.79 30.15 C374.95 30.44 371.35 30.99 370.76 31.86 C370.18 32.74 371.92 34.13 372.27 35.39 C372.63 36.65 372.42 38.08 372.90 39.42 C373.38 40.76 374.43 42.19 375.16 43.45 C375.89 44.71 376.94 46.39 377.30 46.98" fill="none" stroke="#45ade6" stroke-width="1.26" stroke-linecap="round" stroke-linejoin="round" opacity="0.9"/>
<path d="M372.27 35.39 C371.92 35.98 370.89 37.69 370.14 38.92 C369.38 40.14 368.15 42.11 367.75 42.74" fill="none" stroke="#45ade6" stroke-width="1.15" stroke-linecap="round" stroke-linejoin="round" opacity="0.9"/>
<path d="M371.02 33.58 C371.43 33.75 373.26 34.08 373.53 34.58 C373.80 35.09 373.00 36.43 372.65 36.60 C372.29 36.77 371.60 35.76 371.39 35.59" fill="none" stroke="#2f8fd0" stroke-width="2.53" stroke-linecap="round" stroke-linejoin="round" opacity="0.9"/>
<path d="M374.78 29.85 L377.04 30.56" fill="none" stroke="#45ade6" stroke-width="2.07" stroke-linecap="round" stroke-linejoin="round" opacity="0.9"/>
<path d="M376.04 44.96 L377.30 46.67" fill="none" stroke="#45ade6" stroke-width="1.84" stroke-linecap="round" stroke-linejoin="round" opacity="0.9"/>
<path d="M359.84 37.61 L361.72 37.20" fill="none" stroke="#6a3a3a" stroke-width="1.84" stroke-linecap="round" stroke-linejoin="round" opacity="0.9"/>
<path d="M366.37 41.94 C366.79 42.11 368.32 42.53 368.88 42.95 C369.45 43.37 369.61 44.21 369.76 44.46" fill="none" stroke="#21c29a" stroke-width="1.84" stroke-linecap="round" stroke-linejoin="round" opacity="0.9"/>
<path d="M392.49 64.91 C392.89 64.96 394.21 65.09 394.88 65.21 C395.55 65.33 396.24 65.55 396.51 65.61" fill="none" stroke="#7ab8e6" stroke-width="1.03" stroke-linecap="round" stroke-linejoin="round" opacity="0.9"/>
<path d="M397.14 69.14 C397.35 69.44 397.98 70.36 398.40 70.95 C398.82 71.54 399.44 72.38 399.65 72.66" fill="none" stroke="#7ab8e6" stroke-width="1.03" stroke-linecap="round" stroke-linejoin="round" opacity="0.9"/>
<path d="M396.39 62.79 C396.49 63.23 396.85 64.56 397.02 65.41 C397.18 66.27 397.33 67.51 397.39 67.93" fill="none" stroke="#1d4f8f" stroke-width="2.99" stroke-linecap="round" stroke-linejoin="round" opacity="0.9"/>
<path d="M393.12 114.98 C393.83 114.89 395.93 114.39 397.39 114.47 C398.86 114.56 401.16 115.31 401.91 115.48" fill="none" stroke="#c9a0f0" stroke-width="1.26" stroke-linecap="round" stroke-linejoin="round" opacity="0.9"/>
<path d="M319.90 110.24 C320.32 110.39 321.68 110.86 322.41 111.15 C323.14 111.43 323.98 111.82 324.29 111.95" fill="none" stroke="#a0306a" stroke-width="1.95" stroke-linecap="round" stroke-linejoin="round" opacity="0.9"/>
<path d="M326.18 122.83 C327.12 123.03 330.01 123.62 331.83 124.04 C333.65 124.46 336.22 125.13 337.10 125.35" fill="none" stroke="#a050c0" stroke-width="1.61" stroke-linecap="round" stroke-linejoin="round" opacity="0.9"/>
<path d="M370.14 126.56 C370.97 126.95 373.17 127.95 375.16 128.88 C377.15 129.80 379.66 131.13 382.07 132.10 C384.48 133.08 388.35 134.28 389.60 134.72" fill="none" stroke="#b98af2" stroke-width="2.07" stroke-linecap="round" stroke-linejoin="round" opacity="0.9"/>
<path d="M394.00 121.02 C394.11 121.69 394.46 123.71 394.63 125.05 C394.80 126.39 394.94 128.41 395.01 129.08" fill="none" stroke="#2bbfc6" stroke-width="1.15" stroke-linecap="round" stroke-linejoin="round" opacity="0.9"/>
<path d="M338.74 164.14 C339.89 164.67 343.03 166.32 345.64 167.36 C348.26 168.40 352.97 169.88 354.44 170.38" fill="none" stroke="#8ab" stroke-width="0.52" stroke-linecap="round" stroke-linejoin="round" opacity="0.9"/>
<path d="M322.41 69.64 L324.04 70.45" fill="none" stroke="#e080c0" stroke-width="1.61" stroke-linecap="round" stroke-linejoin="round" opacity="0.9"/>
<path d="M383.58 92.31 L385.21 93.42" fill="none" stroke="#21c29a" stroke-width="1.49" stroke-linecap="round" stroke-linejoin="round" opacity="0.9"/>
<path d="M405.05 83.14 C405.33 83.33 406.18 83.88 406.69 84.25 C407.19 84.62 407.84 85.17 408.07 85.36" fill="none" stroke="#5a1a4a" stroke-width="2.30" stroke-linecap="round" stroke-linejoin="round" opacity="0.9"/>
<path d="M415.73 96.84 C416.09 97.09 417.09 97.77 417.86 98.35 C418.64 98.94 419.96 100.03 420.38 100.37" fill="none" stroke="#8fbf20" stroke-width="0.92" stroke-linecap="round" stroke-linejoin="round" opacity="0.9"/>
<line x1="309.60" y1="20.50" x2="309.60" y2="184.20" stroke="#111" stroke-width="1.1"/>
<line x1="309.10" y1="183.70" x2="440.60" y2="183.70" stroke="#111" stroke-width="1.1"/>
<line x1="330.70" y1="183.70" x2="330.70" y2="186.30" stroke="#111" stroke-width="0.9"/>
<text x="330.70" y="196.00" font-size="6.1" text-anchor="middle" fill="#222" stroke="#222" stroke-width="0.18">−5</text>
<line x1="357.20" y1="183.70" x2="357.20" y2="186.30" stroke="#111" stroke-width="0.9"/>
<text x="357.20" y="196.00" font-size="6.1" text-anchor="middle" fill="#222" stroke="#222" stroke-width="0.18">0</text>
<line x1="383.70" y1="183.70" x2="383.70" y2="186.30" stroke="#111" stroke-width="0.9"/>
<text x="383.70" y="196.00" font-size="6.1" text-anchor="middle" fill="#222" stroke="#222" stroke-width="0.18">5</text>
<line x1="410.20" y1="183.70" x2="410.20" y2="186.30" stroke="#111" stroke-width="0.9"/>
<text x="410.20" y="196.00" font-size="6.1" text-anchor="middle" fill="#222" stroke="#222" stroke-width="0.18">10</text>
<line x1="436.70" y1="183.70" x2="436.70" y2="186.30" stroke="#111" stroke-width="0.9"/>
<text x="436.70" y="196.00" font-size="6.1" text-anchor="middle" fill="#222" stroke="#222" stroke-width="0.18">15</text>
<line x1="307.00" y1="159.10" x2="309.60" y2="159.10" stroke="#111" stroke-width="0.9"/>
<text x="302.80" y="161.30" font-size="6.1" text-anchor="end" fill="#222" stroke="#222" stroke-width="0.18">−10</text>
<line x1="307.00" y1="131.90" x2="309.60" y2="131.90" stroke="#111" stroke-width="0.9"/>
<text x="302.80" y="134.10" font-size="6.1" text-anchor="end" fill="#222" stroke="#222" stroke-width="0.18">−5</text>
<line x1="307.00" y1="104.70" x2="309.60" y2="104.70" stroke="#111" stroke-width="0.9"/>
<text x="302.80" y="106.90" font-size="6.1" text-anchor="end" fill="#222" stroke="#222" stroke-width="0.18">0</text>
<line x1="307.00" y1="77.50" x2="309.60" y2="77.50" stroke="#111" stroke-width="0.9"/>
<text x="302.80" y="79.70" font-size="6.1" text-anchor="end" fill="#222" stroke="#222" stroke-width="0.18">5</text>
<line x1="307.00" y1="50.30" x2="309.60" y2="50.30" stroke="#111" stroke-width="0.9"/>
<text x="302.80" y="52.50" font-size="6.1" text-anchor="end" fill="#222" stroke="#222" stroke-width="0.18">10</text>
<line x1="307.00" y1="23.10" x2="309.60" y2="23.10" stroke="#111" stroke-width="0.9"/>
<text x="302.80" y="25.30" font-size="6.1" text-anchor="end" fill="#222" stroke="#222" stroke-width="0.18">15</text>
<text x="267.80" y="16.80" font-size="11.5" font-weight="bold" fill="#111">B</text>
<text x="374.90" y="209.00" font-size="9" text-anchor="middle" fill="#222" stroke="#222" stroke-width="0.35" textLength="24" lengthAdjust="spacingAndGlyphs">UMAP_1</text>
<text x="0" y="0" font-size="8.4" text-anchor="middle" fill="#222" stroke="#222" stroke-width="0.35" textLength="23.4" lengthAdjust="spacingAndGlyphs" transform="translate(286.40 102.00) rotate(-90)">UMAP_2</text>
<text x="399.50" y="62.60" font-size="4.9" font-weight="bold" fill="#1a1a1a" textLength="25.6" lengthAdjust="spacingAndGlyphs">macrophage</text>
<text x="404.20" y="68.10" font-size="4.5" font-weight="normal" fill="#1a1a1a" textLength="16.3" lengthAdjust="spacingAndGlyphs">WT: 185</text>
<text x="404.20" y="73.80" font-size="4.5" font-weight="normal" fill="#1a1a1a" textLength="28.1" lengthAdjust="spacingAndGlyphs">Mfm1 mut: 194</text>
<text x="405.40" y="80.10" font-size="4.9" font-weight="bold" fill="#1a1a1a" textLength="32.3" lengthAdjust="spacingAndGlyphs">pan endothelial</text>
<text x="412.80" y="85.70" font-size="4.5" font-weight="normal" fill="#1a1a1a" textLength="12.2" lengthAdjust="spacingAndGlyphs">WT:97</text>
<text x="412.80" y="91.50" font-size="4.5" font-weight="normal" fill="#1a1a1a" textLength="26.1" lengthAdjust="spacingAndGlyphs">Mfm1 mut: 76</text>
<text x="427.50" y="97.80" font-size="4.9" font-weight="bold" fill="#1a1a1a" textLength="18.0" lengthAdjust="spacingAndGlyphs">erythroid</text>
<text x="441.20" y="103.50" font-size="4.5" font-weight="normal" fill="#1a1a1a" textLength="17.5" lengthAdjust="spacingAndGlyphs">WT: 1231</text>
<text x="441.20" y="109.00" font-size="4.5" font-weight="normal" fill="#1a1a1a" textLength="25.8" lengthAdjust="spacingAndGlyphs">Mfm1 mut: 76</text>
<text x="334.0" y="65.2" font-size="3.6" fill="#333" text-anchor="middle">6</text>
<text x="340.0" y="69.2" font-size="3.6" fill="#333" text-anchor="middle">0</text>
<text x="341.0" y="81.2" font-size="3.6" fill="#333" text-anchor="middle">1</text>
<text x="336.0" y="92.2" font-size="3.6" fill="#333" text-anchor="middle">14</text>
<text x="350.0" y="94.2" font-size="3.6" fill="#333" text-anchor="middle">3</text>
<text x="357.0" y="80.2" font-size="3.6" fill="#333" text-anchor="middle">4</text>
<text x="349.0" y="118.2" font-size="3.6" fill="#333" text-anchor="middle">2</text>
<text x="364.0" y="115.2" font-size="3.6" fill="#333" text-anchor="middle">5</text>
<text x="375.0" y="104.2" font-size="3.6" fill="#333" text-anchor="middle">11</text>
<text x="357.0" y="139.2" font-size="3.6" fill="#333" text-anchor="middle">9</text>
<text x="333.0" y="147.2" font-size="3.6" fill="#333" text-anchor="middle">12</text>
<text x="331.0" y="160.2" font-size="3.6" fill="#333" text-anchor="middle">8</text>
<text x="356.0" y="165.2" font-size="3.6" fill="#333" text-anchor="middle">15</text>
<text x="394.0" y="138.2" font-size="3.6" fill="#333" text-anchor="middle">17</text>
<text x="428.0" y="105.2" font-size="3.6" fill="#333" text-anchor="middle">10</text>
<text x="359.0" y="39.2" font-size="3.6" fill="#333" text-anchor="middle">26</text>
<text x="404.6" y="87.2" font-size="3.6" fill="#333" text-anchor="middle">38</text>
<text x="393.0" y="67.2" font-size="3.6" fill="#333" text-anchor="middle">18</text>
<text x="322.0" y="113.2" font-size="3.6" fill="#333" text-anchor="middle">20</text>
<text x="329.0" y="126.2" font-size="3.6" fill="#333" text-anchor="middle">19</text>
<text x="392.0" y="117.7" font-size="3.6" fill="#333" text-anchor="middle">7</text>
<text x="378.0" y="134.2" font-size="3.6" fill="#333" text-anchor="middle">16</text>
<line x1="63.5" y1="284.19" x2="116.6" y2="284.19" stroke="#d07a8c" stroke-width="1" stroke-dasharray="3.2 2.2"/>
<line x1="63.5" y1="300.58" x2="116.6" y2="300.58" stroke="#d07a8c" stroke-width="1" stroke-dasharray="3.2 2.2"/>
<rect x="69.15" y="292.83" width="9.3" height="38.47" fill="#485a69"/>
<rect x="84.85" y="287.82" width="9.3" height="43.48" fill="#485a69"/>
<rect x="100.75" y="288.61" width="9.3" height="42.69" fill="#485a69"/>
<line x1="63.5" y1="284.19" x2="116.6" y2="284.19" stroke="#d07a8c" stroke-width="0.9" stroke-dasharray="3.2 2.2" opacity="0.55"/>
<line x1="63.5" y1="300.58" x2="116.6" y2="300.58" stroke="#d07a8c" stroke-width="0.9" stroke-dasharray="3.2 2.2" opacity="0.55"/>
<line x1="73.8" y1="282.29" x2="73.8" y2="302.84" stroke="#2a2a2a" stroke-width="0.85" />
<line x1="71.6" y1="282.29" x2="76" y2="282.29" stroke="#2a2a2a" stroke-width="0.85" />
<line x1="71.6" y1="302.84" x2="76" y2="302.84" stroke="#2a2a2a" stroke-width="0.85" />
<line x1="89.5" y1="273.33" x2="89.5" y2="302.31" stroke="#2a2a2a" stroke-width="0.85" />
<line x1="87.3" y1="273.33" x2="91.7" y2="273.33" stroke="#2a2a2a" stroke-width="0.85" />
<line x1="87.3" y1="302.31" x2="91.7" y2="302.31" stroke="#2a2a2a" stroke-width="0.85" />
<line x1="105.4" y1="279.65" x2="105.4" y2="298.1" stroke="#2a2a2a" stroke-width="0.85" />
<line x1="103.2" y1="279.65" x2="107.6" y2="279.65" stroke="#2a2a2a" stroke-width="0.85" />
<line x1="103.2" y1="298.1" x2="107.6" y2="298.1" stroke="#2a2a2a" stroke-width="0.85" />
<circle cx="73.8" cy="282.29" r="1.66" fill="#2e1a22"/>
<circle cx="73.8" cy="292.83" r="1.66" fill="#fff" stroke="#2a2a2a" stroke-width="0.75"/>
<circle cx="73.8" cy="302.84" r="1.66" fill="#2e1a22"/>
<circle cx="89.5" cy="261.74" r="1.66" fill="#2e1a22"/>
<circle cx="89.5" cy="277.55" r="1.66" fill="#2e1a22"/>
<circle cx="89.5" cy="283.87" r="1.66" fill="#2e1a22"/>
<circle cx="93.3" cy="283.87" r="1.66" fill="#2e1a22"/>
<circle cx="85.8" cy="288.09" r="1.66" fill="#fff" stroke="#2a2a2a" stroke-width="0.75"/>
<circle cx="89.5" cy="288.09" r="1.66" fill="#fff" stroke="#2a2a2a" stroke-width="0.75"/>
<circle cx="93.2" cy="288.09" r="1.66" fill="#fff" stroke="#2a2a2a" stroke-width="0.75"/>
<circle cx="89.5" cy="295.46" r="1.66" fill="#2e1a22"/>
<circle cx="89.5" cy="309.17" r="1.66" fill="#2e1a22"/>
<circle cx="105.4" cy="274.91" r="1.66" fill="#2e1a22"/>
<circle cx="105.4" cy="280.18" r="1.66" fill="#2e1a22"/>
<circle cx="102.2" cy="288.09" r="1.66" fill="#fff" stroke="#2a2a2a" stroke-width="0.75"/>
<circle cx="108.6" cy="288.09" r="1.66" fill="#fff" stroke="#2a2a2a" stroke-width="0.75"/>
<circle cx="105.4" cy="292.83" r="1.66" fill="#2e1a22"/>
<circle cx="105.4" cy="301.26" r="1.66" fill="#2e1a22"/>
<line x1="63.5" y1="249.45" x2="63.5" y2="331.8" stroke="#1a1a1a" stroke-width="1.1" />
<line x1="63" y1="331.3" x2="115.6" y2="331.3" stroke="#1a1a1a" stroke-width="1.1" />
<line x1="60.7" y1="331.3" x2="63.5" y2="331.3" stroke="#1a1a1a" stroke-width="0.9" />
<text x="57" y="333.6" font-size="6.4" text-anchor="end" fill="#222" stroke="#222" stroke-width="0.12" >0</text>
<line x1="60.7" y1="304.95" x2="63.5" y2="304.95" stroke="#1a1a1a" stroke-width="0.9" />
<text x="57" y="307.25" font-size="6.4" text-anchor="end" fill="#222" stroke="#222" stroke-width="0.12" >5</text>
<line x1="60.7" y1="278.6" x2="63.5" y2="278.6" stroke="#1a1a1a" stroke-width="0.9" />
<text x="57" y="280.9" font-size="6.4" text-anchor="end" fill="#222" stroke="#222" stroke-width="0.12" >10</text>
<line x1="60.7" y1="252.25" x2="63.5" y2="252.25" stroke="#1a1a1a" stroke-width="0.9" />
<text x="57" y="254.55" font-size="6.4" text-anchor="end" fill="#222" stroke="#222" stroke-width="0.12" >15</text>
<line x1="73.8" y1="331.3" x2="73.8" y2="334.4" stroke="#1a1a1a" stroke-width="1" />
<line x1="89.5" y1="331.3" x2="89.5" y2="334.4" stroke="#1a1a1a" stroke-width="1" />
<line x1="105.4" y1="331.3" x2="105.4" y2="334.4" stroke="#1a1a1a" stroke-width="1" />
<text x="73.9" y="340.7" font-size="6.6" text-anchor="end" fill="#222" stroke="#222" stroke-width="0.12" transform="rotate(-45 73.9 340.7)">+/+</text>
<text x="89.6" y="340.7" font-size="6.6" text-anchor="end" fill="#222" stroke="#222" stroke-width="0.12" transform="rotate(-45 89.6 340.7)"><tspan font-style="italic">frs</tspan>/+</text>
<text x="105.5" y="340.7" font-size="6.6" text-anchor="end" fill="#222" stroke="#222" stroke-width="0.12" transform="rotate(-45 105.5 340.7)"><tspan font-style="italic">frs/frs</tspan></text>
<text x="0" y="0" font-size="8.8" text-anchor="middle" fill="#222" stroke="#222" stroke-width="0.22" textLength="76" lengthAdjust="spacingAndGlyphs" transform="translate(44.77 290.3) rotate(-90)">Percent gata1:DSRED+ cells</text>
<text x="29" y="236.3" font-size="11.5" text-anchor="start" fill="#111" font-weight="bold" >C</text>
<line x1="166.4" y1="291.3" x2="249.5" y2="291.3" stroke="#d07a8c" stroke-width="1" stroke-dasharray="3.2 2.2"/>
<line x1="166.4" y1="325.32" x2="249.5" y2="325.32" stroke="#d07a8c" stroke-width="1" stroke-dasharray="3.2 2.2"/>
<rect x="170.8" y="307.96" width="7.8" height="23.44" fill="#485a69"/>
<rect x="183.52" y="312.3" width="7.8" height="19.1" fill="#485a69"/>
<rect x="196.24" y="329.23" width="7.8" height="2.17" fill="#485a69"/>
<rect x="208.96" y="311.44" width="7.8" height="19.96" fill="#d9dcdf"/>
<rect x="221.68" y="312.3" width="7.8" height="19.1" fill="#d9dcdf"/>
<rect x="234.4" y="307.1" width="7.8" height="24.3" fill="#d9dcdf"/>
<line x1="166.4" y1="291.3" x2="249.5" y2="291.3" stroke="#d07a8c" stroke-width="0.9" stroke-dasharray="3.2 2.2" opacity="0.55"/>
<line x1="166.4" y1="325.32" x2="249.5" y2="325.32" stroke="#d07a8c" stroke-width="0.9" stroke-dasharray="3.2 2.2" opacity="0.55"/>
<line x1="174.7" y1="293.21" x2="174.7" y2="322.72" stroke="#2a2a2a" stroke-width="0.85" />
<line x1="172.5" y1="293.21" x2="176.9" y2="293.21" stroke="#2a2a2a" stroke-width="0.85" />
<line x1="172.5" y1="322.72" x2="176.9" y2="322.72" stroke="#2a2a2a" stroke-width="0.85" />
<line x1="187.42" y1="304.49" x2="187.42" y2="320.55" stroke="#2a2a2a" stroke-width="0.85" />
<line x1="185.22" y1="304.49" x2="189.62" y2="304.49" stroke="#2a2a2a" stroke-width="0.85" />
<line x1="185.22" y1="320.55" x2="189.62" y2="320.55" stroke="#2a2a2a" stroke-width="0.85" />
<line x1="212.86" y1="296.68" x2="212.86" y2="316.21" stroke="#777" stroke-width="0.85" />
<line x1="210.66" y1="296.68" x2="215.06" y2="296.68" stroke="#777" stroke-width="0.85" />
<line x1="210.66" y1="316.21" x2="215.06" y2="316.21" stroke="#777" stroke-width="0.85" />
<line x1="225.58" y1="296.68" x2="225.58" y2="318.38" stroke="#777" stroke-width="0.85" />
<line x1="223.38" y1="296.68" x2="227.78" y2="296.68" stroke="#777" stroke-width="0.85" />
<line x1="223.38" y1="318.38" x2="227.78" y2="318.38" stroke="#777" stroke-width="0.85" />
<line x1="238.3" y1="294.94" x2="238.3" y2="316.21" stroke="#777" stroke-width="0.85" />
<line x1="236.1" y1="294.94" x2="240.5" y2="294.94" stroke="#777" stroke-width="0.85" />
<line x1="236.1" y1="316.21" x2="240.5" y2="316.21" stroke="#777" stroke-width="0.85" />
<circle cx="174.7" cy="282.36" r="1.89" fill="#8c1d36" stroke="#2a0a12" stroke-width="0.75"/>
<circle cx="172.2" cy="303.19" r="1.95" fill="#fff" stroke="#2a2a2a" stroke-width="0.75"/>
<circle cx="177.2" cy="306.66" r="1.95" fill="#fff" stroke="#2a2a2a" stroke-width="0.75"/>
<circle cx="172.2" cy="316.21" r="1.95" fill="#fff" stroke="#2a2a2a" stroke-width="0.75"/>
<circle cx="177.2" cy="318.38" r="1.95" fill="#fff" stroke="#2a2a2a" stroke-width="0.75"/>
<circle cx="174.7" cy="323.59" r="1.95" fill="#fff" stroke="#2a2a2a" stroke-width="0.75"/>
<circle cx="187.42" cy="297.55" r="1.95" fill="#fff" stroke="#2a2a2a" stroke-width="0.75"/>
<circle cx="184.92" cy="306.23" r="1.95" fill="#fff" stroke="#2a2a2a" stroke-width="0.75"/>
<circle cx="189.92" cy="303.62" r="1.95" fill="#fff" stroke="#2a2a2a" stroke-width="0.75"/>
<circle cx="187.42" cy="309.7" r="1.95" fill="#fff" stroke="#2a2a2a" stroke-width="0.75"/>
<circle cx="184.92" cy="313.17" r="1.95" fill="#fff" stroke="#2a2a2a" stroke-width="0.75"/>
<circle cx="189.92" cy="315.78" r="1.95" fill="#fff" stroke="#2a2a2a" stroke-width="0.75"/>
<circle cx="184.92" cy="318.38" r="1.95" fill="#fff" stroke="#2a2a2a" stroke-width="0.75"/>
<circle cx="189.92" cy="320.12" r="1.95" fill="#fff" stroke="#2a2a2a" stroke-width="0.75"/>
<circle cx="187.42" cy="324.89" r="1.95" fill="#fff" stroke="#2a2a2a" stroke-width="0.75"/>
<circle cx="198.64" cy="328.8" r="1.89" fill="#8c1d36" stroke="#2a0a12" stroke-width="0.75"/>
<circle cx="201.64" cy="328.8" r="1.89" fill="#8c1d36" stroke="#2a0a12" stroke-width="0.75"/>
<circle cx="200.14" cy="327.49" r="1.89" fill="#8c1d36" stroke="#2a0a12" stroke-width="0.75"/>
<circle cx="197.64" cy="330.1" r="1.89" fill="#8c1d36" stroke="#2a0a12" stroke-width="0.75"/>
<circle cx="202.64" cy="330.1" r="1.89" fill="#8c1d36" stroke="#2a0a12" stroke-width="0.75"/>
<circle cx="200.14" cy="330.53" r="1.89" fill="#8c1d36" stroke="#2a0a12" stroke-width="0.75"/>
<circle cx="212.86" cy="296.25" r="1.95" fill="#fff" stroke="#2a2a2a" stroke-width="0.75"/>
<circle cx="212.86" cy="304.49" r="1.95" fill="#fff" stroke="#2a2a2a" stroke-width="0.75"/>
<circle cx="210.36" cy="312.3" r="1.95" fill="#fff" stroke="#2a2a2a" stroke-width="0.75"/>
<circle cx="215.36" cy="310.57" r="1.95" fill="#fff" stroke="#2a2a2a" stroke-width="0.75"/>
<circle cx="225.58" cy="296.68" r="1.95" fill="#fff" stroke="#2a2a2a" stroke-width="0.75"/>
<circle cx="225.58" cy="310.57" r="1.95" fill="#fff" stroke="#2a2a2a" stroke-width="0.75"/>
<circle cx="225.58" cy="314.91" r="1.95" fill="#fff" stroke="#2a2a2a" stroke-width="0.75"/>
<circle cx="235.8" cy="294.08" r="1.95" fill="#fff" stroke="#2a2a2a" stroke-width="0.75"/>
<circle cx="240.8" cy="292.34" r="1.95" fill="#fff" stroke="#2a2a2a" stroke-width="0.75"/>
<circle cx="235.8" cy="301.89" r="1.95" fill="#fff" stroke="#2a2a2a" stroke-width="0.75"/>
<circle cx="240.8" cy="301.02" r="1.95" fill="#fff" stroke="#2a2a2a" stroke-width="0.75"/>
<circle cx="238.3" cy="307.1" r="1.95" fill="#fff" stroke="#2a2a2a" stroke-width="0.75"/>
<circle cx="235.8" cy="312.3" r="1.95" fill="#fff" stroke="#2a2a2a" stroke-width="0.75"/>
<circle cx="240.8" cy="313.17" r="1.95" fill="#fff" stroke="#2a2a2a" stroke-width="0.75"/>
<circle cx="238.3" cy="318.38" r="1.95" fill="#fff" stroke="#2a2a2a" stroke-width="0.75"/>
<circle cx="238.3" cy="258.2" r="1.89" fill="#8c1d36" stroke="#2a0a12" stroke-width="0.75"/>
<line x1="166.4" y1="266.3" x2="166.4" y2="331.9" stroke="#1a1a1a" stroke-width="1.1" />
<line x1="165.9" y1="331.4" x2="246.5" y2="331.4" stroke="#1a1a1a" stroke-width="1.1" />
<line x1="163.6" y1="331.4" x2="166.4" y2="331.4" stroke="#1a1a1a" stroke-width="0.9" />
<text x="159.9" y="333.7" font-size="6.4" text-anchor="end" fill="#222" stroke="#222" stroke-width="0.12" >0</text>
<line x1="163.6" y1="309.7" x2="166.4" y2="309.7" stroke="#1a1a1a" stroke-width="0.9" />
<text x="159.9" y="312" font-size="6.4" text-anchor="end" fill="#222" stroke="#222" stroke-width="0.12" >5</text>
<line x1="163.6" y1="288" x2="166.4" y2="288" stroke="#1a1a1a" stroke-width="0.9" />
<text x="159.9" y="290.3" font-size="6.4" text-anchor="end" fill="#222" stroke="#222" stroke-width="0.12" >10</text>
<line x1="163.6" y1="266.3" x2="166.4" y2="266.3" stroke="#1a1a1a" stroke-width="0.9" />
<text x="159.9" y="268.6" font-size="6.4" text-anchor="end" fill="#222" stroke="#222" stroke-width="0.12" >15</text>
<line x1="166.4" y1="249.8" x2="166.4" y2="259.3" stroke="#1a1a1a" stroke-width="1.1" />
<line x1="163.6" y1="252.6" x2="166.4" y2="252.6" stroke="#1a1a1a" stroke-width="0.9" />
<line x1="163.6" y1="259.3" x2="168.6" y2="259.3" stroke="#1a1a1a" stroke-width="0.9" />
<line x1="163.6" y1="266.3" x2="168.6" y2="266.3" stroke="#1a1a1a" stroke-width="0.9" />
<text x="159.9" y="254.9" font-size="6.4" text-anchor="end" fill="#222" stroke="#222" stroke-width="0.12" >40</text>
<text x="159.9" y="261.6" font-size="6.4" text-anchor="end" fill="#222" stroke="#222" stroke-width="0.12" >35</text>
<line x1="174.7" y1="331.4" x2="174.7" y2="334.5" stroke="#1a1a1a" stroke-width="1" />
<line x1="187.42" y1="331.4" x2="187.42" y2="334.5" stroke="#1a1a1a" stroke-width="1" />
<line x1="200.14" y1="331.4" x2="200.14" y2="334.5" stroke="#1a1a1a" stroke-width="1" />
<line x1="212.86" y1="331.4" x2="212.86" y2="334.5" stroke="#1a1a1a" stroke-width="1" />
<line x1="225.58" y1="331.4" x2="225.58" y2="334.5" stroke="#1a1a1a" stroke-width="1" />
<line x1="238.3" y1="331.4" x2="238.3" y2="334.5" stroke="#1a1a1a" stroke-width="1" />
<text x="174.8" y="340.8" font-size="6.6" text-anchor="end" fill="#222" stroke="#222" stroke-width="0.12" transform="rotate(-45 174.8 340.8)">+/+</text>
<text x="187.52" y="340.8" font-size="6.6" text-anchor="end" fill="#222" stroke="#222" stroke-width="0.12" transform="rotate(-45 187.52 340.8)"><tspan font-style="italic">frs</tspan>/+</text>
<text x="200.24" y="340.8" font-size="6.6" text-anchor="end" fill="#222" stroke="#222" stroke-width="0.12" transform="rotate(-45 200.24 340.8)"><tspan font-style="italic">frs/frs</tspan></text>
<text x="212.96" y="340.8" font-size="6.6" text-anchor="end" fill="#222" stroke="#222" stroke-width="0.12" transform="rotate(-45 212.96 340.8)">+/+</text>
<text x="225.68" y="340.8" font-size="6.6" text-anchor="end" fill="#222" stroke="#222" stroke-width="0.12" transform="rotate(-45 225.68 340.8)"><tspan font-style="italic">frs</tspan>/+</text>
<text x="238.4" y="340.8" font-size="6.6" text-anchor="end" fill="#222" stroke="#222" stroke-width="0.12" transform="rotate(-45 238.4 340.8)"><tspan font-style="italic">frs/frs</tspan></text>
<line x1="203.9" y1="356.1" x2="238" y2="356.1" stroke="#5d6068" stroke-width="1.5" />
<text x="221.65" y="364.9" font-size="6.5" text-anchor="middle" fill="#6a5f58" stroke="#6a5f58" stroke-width="0.12" textLength="32.4" lengthAdjust="spacingAndGlyphs" >+15uM Iron</text>
<path d="M174.4 272.4 V269.4 H199.8 V272.4" fill="none" stroke="#111" stroke-width="0.95"/>
<text x="187.1" y="269.8" font-size="6" text-anchor="middle" fill="#111" stroke="#111" stroke-width="0.12" >**</text>
<path d="M186.3 263.8 V260.8 H199.8 V263.8" fill="none" stroke="#111" stroke-width="0.95"/>
<text x="193.05" y="261.2" font-size="6" text-anchor="middle" fill="#111" stroke="#111" stroke-width="0.12" >***</text>
<path d="M199.8 254.2 V251.2 H238.5 V254.2" fill="none" stroke="#111" stroke-width="0.95"/>
<text x="219.15" y="251.6" font-size="6" text-anchor="middle" fill="#111" stroke="#111" stroke-width="0.12" >***</text>
<text x="0" y="0" font-size="8.8" text-anchor="middle" fill="#222" stroke="#222" stroke-width="0.22" textLength="75" lengthAdjust="spacingAndGlyphs" transform="translate(147.77 290.1) rotate(-90)">Percent gata1:DSRED+ cells</text>
<text x="132.2" y="236.3" font-size="11.5" text-anchor="start" fill="#111" font-weight="bold" >D</text>
<line x1="299.4" y1="320.38" x2="370.3" y2="320.38" stroke="#d07a8c" stroke-width="1" stroke-dasharray="3.2 2.2"/>
<line x1="299.4" y1="325.49" x2="370.3" y2="325.49" stroke="#d07a8c" stroke-width="1" stroke-dasharray="3.2 2.2"/>
<rect x="304.6" y="324.41" width="7" height="6.89" fill="#485a69"/>
<rect x="317" y="324.41" width="7" height="6.89" fill="#485a69"/>
<rect x="329.9" y="288" width="7" height="43.3" fill="#485a69"/>
<rect x="342.3" y="322.44" width="7" height="8.86" fill="#d9dcdf"/>
<rect x="354.7" y="323.43" width="7" height="7.87" fill="#d9dcdf"/>
<line x1="299.4" y1="320.38" x2="370.3" y2="320.38" stroke="#d07a8c" stroke-width="0.9" stroke-dasharray="3.2 2.2" opacity="0.55"/>
<line x1="299.4" y1="325.49" x2="370.3" y2="325.49" stroke="#d07a8c" stroke-width="0.9" stroke-dasharray="3.2 2.2" opacity="0.55"/>
<line x1="333.4" y1="270.29" x2="333.4" y2="304.73" stroke="#2a2a2a" stroke-width="0.85" />
<line x1="331.2" y1="270.29" x2="335.6" y2="270.29" stroke="#2a2a2a" stroke-width="0.85" />
<line x1="331.2" y1="304.73" x2="335.6" y2="304.73" stroke="#2a2a2a" stroke-width="0.85" />
<circle cx="305.6" cy="320.97" r="1.95" fill="#fff" stroke="#2a2a2a" stroke-width="0.75"/>
<circle cx="310.6" cy="320.28" r="1.89" fill="#8c1d36" stroke="#2a0a12" stroke-width="0.75"/>
<circle cx="305.6" cy="324.9" r="1.89" fill="#8c1d36" stroke="#2a0a12" stroke-width="0.75"/>
<circle cx="310.6" cy="323.92" r="1.95" fill="#fff" stroke="#2a2a2a" stroke-width="0.75"/>
<circle cx="308.1" cy="322.94" r="1.95" fill="#fff" stroke="#2a2a2a" stroke-width="0.75"/>
<circle cx="318" cy="323.43" r="1.95" fill="#fff" stroke="#2a2a2a" stroke-width="0.75"/>
<circle cx="322" cy="320.48" r="1.95" fill="#fff" stroke="#2a2a2a" stroke-width="0.75"/>
<circle cx="323" cy="325.4" r="1.89" fill="#8c1d36" stroke="#2a0a12" stroke-width="0.75"/>
<circle cx="320.5" cy="321.95" r="1.95" fill="#fff" stroke="#2a2a2a" stroke-width="0.75"/>
<circle cx="319.5" cy="324.9" r="1.95" fill="#fff" stroke="#2a2a2a" stroke-width="0.75"/>
<circle cx="333.4" cy="269.31" r="1.89" fill="#8c1d36" stroke="#2a0a12" stroke-width="0.75"/>
<circle cx="330.6" cy="276.69" r="1.89" fill="#8c1d36" stroke="#2a0a12" stroke-width="0.75"/>
<circle cx="335.7" cy="279.15" r="1.89" fill="#8c1d36" stroke="#2a0a12" stroke-width="0.75"/>
<circle cx="333.4" cy="291.94" r="1.89" fill="#8c1d36" stroke="#2a0a12" stroke-width="0.75"/>
<circle cx="333.4" cy="298.34" r="1.89" fill="#8c1d36" stroke="#2a0a12" stroke-width="0.75"/>
<circle cx="333.4" cy="312.11" r="1.89" fill="#8c1d36" stroke="#2a0a12" stroke-width="0.75"/>
<circle cx="343.8" cy="319" r="1.89" fill="#8c1d36" stroke="#2a0a12" stroke-width="0.75"/>
<circle cx="347.8" cy="319.49" r="1.89" fill="#8c1d36" stroke="#2a0a12" stroke-width="0.75"/>
<circle cx="345.8" cy="326.87" r="1.89" fill="#8c1d36" stroke="#2a0a12" stroke-width="0.75"/>
<circle cx="358.2" cy="318.02" r="1.89" fill="#8c1d36" stroke="#2a0a12" stroke-width="0.75"/>
<circle cx="355.9" cy="322.44" r="1.95" fill="#fff" stroke="#2a2a2a" stroke-width="0.75"/>
<circle cx="358.2" cy="324.41" r="1.95" fill="#fff" stroke="#2a2a2a" stroke-width="0.75"/>
<circle cx="360.5" cy="325.89" r="1.89" fill="#8c1d36" stroke="#2a0a12" stroke-width="0.75"/>
<circle cx="358.2" cy="328.35" r="1.89" fill="#8c1d36" stroke="#2a0a12" stroke-width="0.75"/>
<line x1="299.4" y1="249.78" x2="299.4" y2="331.8" stroke="#1a1a1a" stroke-width="1.1" />
<line x1="298.9" y1="331.3" x2="367.3" y2="331.3" stroke="#1a1a1a" stroke-width="1.1" />
<line x1="296.6" y1="331.3" x2="299.4" y2="331.3" stroke="#1a1a1a" stroke-width="0.9" />
<text x="292.9" y="333.6" font-size="6.4" text-anchor="end" fill="#222" stroke="#222" stroke-width="0.12" >0</text>
<line x1="296.6" y1="311.62" x2="299.4" y2="311.62" stroke="#1a1a1a" stroke-width="0.9" />
<text x="292.9" y="313.92" font-size="6.4" text-anchor="end" fill="#222" stroke="#222" stroke-width="0.12" >20</text>
<line x1="296.6" y1="291.94" x2="299.4" y2="291.94" stroke="#1a1a1a" stroke-width="0.9" />
<text x="292.9" y="294.24" font-size="6.4" text-anchor="end" fill="#222" stroke="#222" stroke-width="0.12" >40</text>
<line x1="296.6" y1="272.26" x2="299.4" y2="272.26" stroke="#1a1a1a" stroke-width="0.9" />
<text x="292.9" y="274.56" font-size="6.4" text-anchor="end" fill="#222" stroke="#222" stroke-width="0.12" >60</text>
<line x1="296.6" y1="252.58" x2="299.4" y2="252.58" stroke="#1a1a1a" stroke-width="0.9" />
<text x="292.9" y="254.88" font-size="6.4" text-anchor="end" fill="#222" stroke="#222" stroke-width="0.12" >80</text>
<line x1="308.1" y1="331.3" x2="308.1" y2="334.4" stroke="#1a1a1a" stroke-width="1" />
<line x1="320.5" y1="331.3" x2="320.5" y2="334.4" stroke="#1a1a1a" stroke-width="1" />
<line x1="333.4" y1="331.3" x2="333.4" y2="334.4" stroke="#1a1a1a" stroke-width="1" />
<line x1="345.8" y1="331.3" x2="345.8" y2="334.4" stroke="#1a1a1a" stroke-width="1" />
<line x1="358.2" y1="331.3" x2="358.2" y2="334.4" stroke="#1a1a1a" stroke-width="1" />
<text x="308.2" y="340.7" font-size="6.6" text-anchor="end" fill="#222" stroke="#222" stroke-width="0.12" transform="rotate(-45 308.2 340.7)">+/+</text>
<text x="320.6" y="340.7" font-size="6.6" text-anchor="end" fill="#222" stroke="#222" stroke-width="0.12" transform="rotate(-45 320.6 340.7)"><tspan font-style="italic">frs</tspan>/+</text>
<text x="333.5" y="340.7" font-size="6.6" text-anchor="end" fill="#222" stroke="#222" stroke-width="0.12" transform="rotate(-45 333.5 340.7)"><tspan font-style="italic">frs/frs</tspan></text>
<text x="345.9" y="340.7" font-size="6.6" text-anchor="end" fill="#222" stroke="#222" stroke-width="0.12" transform="rotate(-45 345.9 340.7)">+/+</text>
<text x="358.3" y="340.7" font-size="6.6" text-anchor="end" fill="#222" stroke="#222" stroke-width="0.12" transform="rotate(-45 358.3 340.7)"><tspan font-style="italic">frs/frs</tspan></text>
<line x1="337.5" y1="356" x2="358.7" y2="356" stroke="#5d6068" stroke-width="1.5" />
<text x="348.8" y="364.8" font-size="6.5" text-anchor="middle" fill="#6a5f58" stroke="#6a5f58" stroke-width="0.12" textLength="32.4" lengthAdjust="spacingAndGlyphs" >+15uM Iron</text>
<path d="M308.1 265.4 V262.4 H333.5 V265.4" fill="none" stroke="#111" stroke-width="0.95"/>
<text x="320.8" y="262.8" font-size="6" text-anchor="middle" fill="#111" stroke="#111" stroke-width="0.12" >**</text>
<path d="M319.6 256.5 V253.5 H333.2 V256.5" fill="none" stroke="#111" stroke-width="0.95"/>
<text x="326.4" y="253.9" font-size="6" text-anchor="middle" fill="#111" stroke="#111" stroke-width="0.12" >**</text>
<path d="M333.2 247.5 V244.5 H358.5 V247.5" fill="none" stroke="#111" stroke-width="0.95"/>
<text x="345.85" y="244.9" font-size="6" text-anchor="middle" fill="#111" stroke="#111" stroke-width="0.12" >**</text>
<text x="0" y="0" font-size="8.8" text-anchor="middle" fill="#222" stroke="#222" stroke-width="0.22" textLength="63.7" lengthAdjust="spacingAndGlyphs" transform="translate(270.47 292.1) rotate(-90)">Percent gata1:DSRED+;</text>
<text x="0" y="0" font-size="8.8" text-anchor="middle" fill="#222" stroke="#222" stroke-width="0.22" textLength="36.3" lengthAdjust="spacingAndGlyphs" transform="translate(281.37 291.5) rotate(-90)">lcr:GFP- cells</text>
<text x="263" y="236.3" font-size="11.5" text-anchor="start" fill="#111" font-weight="bold" >E</text>
<line x1="422" y1="257.71" x2="494.7" y2="257.71" stroke="#d07a8c" stroke-width="1" stroke-dasharray="3.2 2.2"/>
<line x1="422" y1="262.81" x2="494.7" y2="262.81" stroke="#d07a8c" stroke-width="1" stroke-dasharray="3.2 2.2"/>
<rect x="427.9" y="260.75" width="7" height="70.25" fill="#485a69"/>
<rect x="440.4" y="260.75" width="7" height="70.25" fill="#485a69"/>
<rect x="453.1" y="295.14" width="7" height="35.86" fill="#485a69"/>
<rect x="465.7" y="262.72" width="7" height="68.28" fill="#d9dcdf"/>
<rect x="478.3" y="259.28" width="7" height="71.72" fill="#d9dcdf"/>
<line x1="422" y1="257.71" x2="494.7" y2="257.71" stroke="#d07a8c" stroke-width="0.9" stroke-dasharray="3.2 2.2" opacity="0.55"/>
<line x1="422" y1="262.81" x2="494.7" y2="262.81" stroke="#d07a8c" stroke-width="0.9" stroke-dasharray="3.2 2.2" opacity="0.55"/>
<line x1="456.6" y1="277.45" x2="456.6" y2="311.84" stroke="#2a2a2a" stroke-width="0.85" />
<line x1="454.4" y1="277.45" x2="458.8" y2="277.45" stroke="#2a2a2a" stroke-width="0.85" />
<line x1="454.4" y1="311.84" x2="458.8" y2="311.84" stroke="#2a2a2a" stroke-width="0.85" />
<circle cx="428.9" cy="258.79" r="1.95" fill="#fff" stroke="#2a2a2a" stroke-width="0.75"/>
<circle cx="433.9" cy="257.31" r="1.89" fill="#8c1d36" stroke="#2a0a12" stroke-width="0.75"/>
<circle cx="428.9" cy="261.73" r="1.89" fill="#8c1d36" stroke="#2a0a12" stroke-width="0.75"/>
<circle cx="433.9" cy="260.26" r="1.95" fill="#fff" stroke="#2a2a2a" stroke-width="0.75"/>
<circle cx="441.4" cy="258.3" r="1.89" fill="#8c1d36" stroke="#2a0a12" stroke-width="0.75"/>
<circle cx="446.4" cy="259.28" r="1.95" fill="#fff" stroke="#2a2a2a" stroke-width="0.75"/>
<circle cx="443.9" cy="259.77" r="1.95" fill="#fff" stroke="#2a2a2a" stroke-width="0.75"/>
<circle cx="443.9" cy="262.23" r="1.89" fill="#8c1d36" stroke="#2a0a12" stroke-width="0.75"/>
<circle cx="456.6" cy="267.63" r="1.89" fill="#8c1d36" stroke="#2a0a12" stroke-width="0.75"/>
<circle cx="456.6" cy="288.75" r="1.89" fill="#8c1d36" stroke="#2a0a12" stroke-width="0.75"/>
<circle cx="456.6" cy="293.17" r="1.89" fill="#8c1d36" stroke="#2a0a12" stroke-width="0.75"/>
<circle cx="456.6" cy="297.1" r="1.89" fill="#8c1d36" stroke="#2a0a12" stroke-width="0.75"/>
<circle cx="456.6" cy="302.02" r="1.89" fill="#8c1d36" stroke="#2a0a12" stroke-width="0.75"/>
<circle cx="456.6" cy="317.25" r="1.89" fill="#8c1d36" stroke="#2a0a12" stroke-width="0.75"/>
<circle cx="469.2" cy="257.8" r="1.89" fill="#8c1d36" stroke="#2a0a12" stroke-width="0.75"/>
<circle cx="466.4" cy="262.72" r="1.89" fill="#8c1d36" stroke="#2a0a12" stroke-width="0.75"/>
<circle cx="469.2" cy="262.72" r="1.89" fill="#8c1d36" stroke="#2a0a12" stroke-width="0.75"/>
<circle cx="472" cy="262.72" r="1.89" fill="#8c1d36" stroke="#2a0a12" stroke-width="0.75"/>
<circle cx="481.8" cy="255.35" r="1.89" fill="#8c1d36" stroke="#2a0a12" stroke-width="0.75"/>
<circle cx="479.3" cy="258.3" r="1.89" fill="#8c1d36" stroke="#2a0a12" stroke-width="0.75"/>
<circle cx="484.3" cy="259.28" r="1.95" fill="#fff" stroke="#2a2a2a" stroke-width="0.75"/>
<circle cx="479.3" cy="261.24" r="1.95" fill="#fff" stroke="#2a2a2a" stroke-width="0.75"/>
<circle cx="481.8" cy="262.23" r="1.89" fill="#8c1d36" stroke="#2a0a12" stroke-width="0.75"/>
<circle cx="484.3" cy="259.77" r="1.95" fill="#fff" stroke="#2a2a2a" stroke-width="0.75"/>
<line x1="422" y1="249.6" x2="422" y2="331.5" stroke="#1a1a1a" stroke-width="1.1" />
<line x1="421.5" y1="331" x2="491.7" y2="331" stroke="#1a1a1a" stroke-width="1.1" />
<line x1="419.2" y1="331" x2="422" y2="331" stroke="#1a1a1a" stroke-width="0.9" />
<text x="415.5" y="333.3" font-size="6.4" text-anchor="end" fill="#222" stroke="#222" stroke-width="0.12" >0</text>
<line x1="419.2" y1="311.35" x2="422" y2="311.35" stroke="#1a1a1a" stroke-width="0.9" />
<text x="415.5" y="313.65" font-size="6.4" text-anchor="end" fill="#222" stroke="#222" stroke-width="0.12" >20</text>
<line x1="419.2" y1="291.7" x2="422" y2="291.7" stroke="#1a1a1a" stroke-width="0.9" />
<text x="415.5" y="294" font-size="6.4" text-anchor="end" fill="#222" stroke="#222" stroke-width="0.12" >40</text>
<line x1="419.2" y1="272.05" x2="422" y2="272.05" stroke="#1a1a1a" stroke-width="0.9" />
<text x="415.5" y="274.35" font-size="6.4" text-anchor="end" fill="#222" stroke="#222" stroke-width="0.12" >60</text>
<line x1="419.2" y1="252.4" x2="422" y2="252.4" stroke="#1a1a1a" stroke-width="0.9" />
<text x="415.5" y="254.7" font-size="6.4" text-anchor="end" fill="#222" stroke="#222" stroke-width="0.12" >80</text>
<line x1="431.4" y1="331" x2="431.4" y2="334.1" stroke="#1a1a1a" stroke-width="1" />
<line x1="443.9" y1="331" x2="443.9" y2="334.1" stroke="#1a1a1a" stroke-width="1" />
<line x1="456.6" y1="331" x2="456.6" y2="334.1" stroke="#1a1a1a" stroke-width="1" />
<line x1="469.2" y1="331" x2="469.2" y2="334.1" stroke="#1a1a1a" stroke-width="1" />
<line x1="481.8" y1="331" x2="481.8" y2="334.1" stroke="#1a1a1a" stroke-width="1" />
<text x="431.5" y="340.4" font-size="6.6" text-anchor="end" fill="#222" stroke="#222" stroke-width="0.12" transform="rotate(-45 431.5 340.4)">+/+</text>
<text x="444" y="340.4" font-size="6.6" text-anchor="end" fill="#222" stroke="#222" stroke-width="0.12" transform="rotate(-45 444 340.4)"><tspan font-style="italic">frs</tspan>/+</text>
<text x="456.7" y="340.4" font-size="6.6" text-anchor="end" fill="#222" stroke="#222" stroke-width="0.12" transform="rotate(-45 456.7 340.4)"><tspan font-style="italic">frs/frs</tspan></text>
<text x="469.3" y="340.4" font-size="6.6" text-anchor="end" fill="#222" stroke="#222" stroke-width="0.12" transform="rotate(-45 469.3 340.4)">+/+</text>
<text x="481.9" y="340.4" font-size="6.6" text-anchor="end" fill="#222" stroke="#222" stroke-width="0.12" transform="rotate(-45 481.9 340.4)"><tspan font-style="italic">frs/frs</tspan></text>
<line x1="460.4" y1="356" x2="482" y2="356" stroke="#5d6068" stroke-width="1.5" />
<text x="471.9" y="364.8" font-size="6.5" text-anchor="middle" fill="#6a5f58" stroke="#6a5f58" stroke-width="0.12" textLength="32.4" lengthAdjust="spacingAndGlyphs" >+15uM Iron</text>
<path d="M430.8 252.4 V249.4 H456.7 V252.4" fill="none" stroke="#111" stroke-width="0.95"/>
<text x="443.75" y="249.8" font-size="6" text-anchor="middle" fill="#111" stroke="#111" stroke-width="0.12" >**</text>
<path d="M442.6 243.9 V240.9 H456.7 V243.9" fill="none" stroke="#111" stroke-width="0.95"/>
<text x="449.65" y="241.3" font-size="6" text-anchor="middle" fill="#111" stroke="#111" stroke-width="0.12" >**</text>
<path d="M456.7 234.4 V231.4 H481.7 V234.4" fill="none" stroke="#111" stroke-width="0.95"/>
<text x="469.2" y="231.8" font-size="6" text-anchor="middle" fill="#111" stroke="#111" stroke-width="0.12" >**</text>
<text x="0" y="0" font-size="8.8" text-anchor="middle" fill="#222" stroke="#222" stroke-width="0.22" textLength="63.7" lengthAdjust="spacingAndGlyphs" transform="translate(391.17 292.1) rotate(-90)">Percent gata1:DSRED+;</text>
<text x="0" y="0" font-size="8.8" text-anchor="middle" fill="#222" stroke="#222" stroke-width="0.22" textLength="38.4" lengthAdjust="spacingAndGlyphs" transform="translate(401.67 291.8) rotate(-90)">lcr:GFP+ cells</text>
<text x="383.8" y="236.3" font-size="11.5" text-anchor="start" fill="#111" font-weight="bold" >F</text>
<line x1="46.5" y1="462" x2="161.5" y2="462" stroke="#d07a8c" stroke-width="1" stroke-dasharray="3.2 2.2"/>
<line x1="46.5" y1="472.37" x2="161.5" y2="472.37" stroke="#d07a8c" stroke-width="1" stroke-dasharray="3.2 2.2"/>
<rect x="50.65" y="466.64" width="8.3" height="13.36" fill="#485a69"/>
<rect x="63.15" y="466.64" width="8.3" height="13.36" fill="#485a69"/>
<rect x="75.65" y="434.21" width="8.3" height="45.79" fill="#485a69"/>
<rect x="88.15" y="473.64" width="8.3" height="6.36" fill="#8e9aa1"/>
<rect x="100.65" y="469.82" width="8.3" height="10.18" fill="#8e9aa1"/>
<rect x="113.15" y="465.37" width="8.3" height="14.63" fill="#8e9aa1"/>
<rect x="125.65" y="461.56" width="8.3" height="18.44" fill="#d9dcdf"/>
<rect x="138.15" y="464.74" width="8.3" height="15.26" fill="#d9dcdf"/>
<rect x="150.65" y="467.28" width="8.3" height="12.72" fill="#d9dcdf"/>
<line x1="46.5" y1="462" x2="161.5" y2="462" stroke="#d07a8c" stroke-width="0.9" stroke-dasharray="3.2 2.2" opacity="0.55"/>
<line x1="46.5" y1="472.37" x2="161.5" y2="472.37" stroke="#d07a8c" stroke-width="0.9" stroke-dasharray="3.2 2.2" opacity="0.55"/>
<line x1="54.8" y1="462.83" x2="54.8" y2="470.46" stroke="#2a2a2a" stroke-width="0.85" />
<line x1="52.6" y1="462.83" x2="57" y2="462.83" stroke="#2a2a2a" stroke-width="0.85" />
<line x1="52.6" y1="470.46" x2="57" y2="470.46" stroke="#2a2a2a" stroke-width="0.85" />
<line x1="67.3" y1="458.38" x2="67.3" y2="474.91" stroke="#2a2a2a" stroke-width="0.85" />
<line x1="65.1" y1="458.38" x2="69.5" y2="458.38" stroke="#2a2a2a" stroke-width="0.85" />
<line x1="65.1" y1="474.91" x2="69.5" y2="474.91" stroke="#2a2a2a" stroke-width="0.85" />
<line x1="79.8" y1="416.4" x2="79.8" y2="454.56" stroke="#2a2a2a" stroke-width="0.85" />
<line x1="77.6" y1="416.4" x2="82" y2="416.4" stroke="#2a2a2a" stroke-width="0.85" />
<line x1="77.6" y1="454.56" x2="82" y2="454.56" stroke="#2a2a2a" stroke-width="0.85" />
<line x1="117.3" y1="459.65" x2="117.3" y2="470.46" stroke="#2a2a2a" stroke-width="0.85" />
<line x1="115.1" y1="459.65" x2="119.5" y2="459.65" stroke="#2a2a2a" stroke-width="0.85" />
<line x1="115.1" y1="470.46" x2="119.5" y2="470.46" stroke="#2a2a2a" stroke-width="0.85" />
<line x1="129.8" y1="457.1" x2="129.8" y2="467.28" stroke="#666" stroke-width="0.85" />
<line x1="127.6" y1="457.1" x2="132" y2="457.1" stroke="#666" stroke-width="0.85" />
<line x1="127.6" y1="467.28" x2="132" y2="467.28" stroke="#666" stroke-width="0.85" />
<line x1="142.3" y1="457.74" x2="142.3" y2="470.46" stroke="#666" stroke-width="0.85" />
<line x1="140.1" y1="457.74" x2="144.5" y2="457.74" stroke="#666" stroke-width="0.85" />
<line x1="140.1" y1="470.46" x2="144.5" y2="470.46" stroke="#666" stroke-width="0.85" />
<circle cx="52.3" cy="462.19" r="1.66" fill="#fff" stroke="#2a2a2a" stroke-width="0.75"/>
<circle cx="57.3" cy="461.56" r="1.61" fill="#8c1d36" stroke="#2a0a12" stroke-width="0.75"/>
<circle cx="54.8" cy="466.01" r="1.66" fill="#fff" stroke="#2a2a2a" stroke-width="0.75"/>
<circle cx="52.8" cy="470.46" r="1.61" fill="#8c1d36" stroke="#2a0a12" stroke-width="0.75"/>
<circle cx="56.8" cy="469.19" r="1.66" fill="#fff" stroke="#2a2a2a" stroke-width="0.75"/>
<circle cx="54.8" cy="473.64" r="1.61" fill="#8c1d36" stroke="#2a0a12" stroke-width="0.75"/>
<circle cx="67.3" cy="448.84" r="1.61" fill="#8c1d36" stroke="#2a0a12" stroke-width="0.75"/>
<circle cx="67.3" cy="452.02" r="1.61" fill="#8c1d36" stroke="#2a0a12" stroke-width="0.75"/>
<circle cx="68.3" cy="454.56" r="1.61" fill="#8c1d36" stroke="#2a0a12" stroke-width="0.75"/>
<circle cx="67.3" cy="457.74" r="1.61" fill="#8c1d36" stroke="#2a0a12" stroke-width="0.75"/>
<circle cx="67.3" cy="464.74" r="1.66" fill="#fff" stroke="#2a2a2a" stroke-width="0.75"/>
<circle cx="64.8" cy="468.55" r="1.61" fill="#8c1d36" stroke="#2a0a12" stroke-width="0.75"/>
<circle cx="69.8" cy="470.46" r="1.66" fill="#fff" stroke="#2a2a2a" stroke-width="0.75"/>
<circle cx="64.8" cy="473.64" r="1.61" fill="#8c1d36" stroke="#2a0a12" stroke-width="0.75"/>
<circle cx="69.8" cy="474.91" r="1.61" fill="#8c1d36" stroke="#2a0a12" stroke-width="0.75"/>
<circle cx="67.3" cy="476.82" r="1.61" fill="#8c1d36" stroke="#2a0a12" stroke-width="0.75"/>
<circle cx="79.8" cy="402.8" r="1.61" fill="#8c1d36" stroke="#2a0a12" stroke-width="0.75"/>
<circle cx="79.8" cy="416.4" r="1.61" fill="#8c1d36" stroke="#2a0a12" stroke-width="0.75"/>
<circle cx="79.8" cy="454.56" r="1.61" fill="#8c1d36" stroke="#2a0a12" stroke-width="0.75"/>
<circle cx="79.8" cy="460.92" r="1.61" fill="#8c1d36" stroke="#2a0a12" stroke-width="0.75"/>
<circle cx="77.3" cy="467.28" r="1.66" fill="#fff" stroke="#2a2a2a" stroke-width="0.75"/>
<circle cx="82.3" cy="467.28" r="1.66" fill="#fff" stroke="#2a2a2a" stroke-width="0.75"/>
<circle cx="79.8" cy="470.46" r="1.66" fill="#fff" stroke="#2a2a2a" stroke-width="0.75"/>
<circle cx="90.3" cy="470.14" r="1.66" fill="#fff" stroke="#2a2a2a" stroke-width="0.75"/>
<circle cx="94.3" cy="469.82" r="1.66" fill="#fff" stroke="#2a2a2a" stroke-width="0.75"/>
<circle cx="89.7" cy="473.32" r="1.61" fill="#8c1d36" stroke="#2a0a12" stroke-width="0.75"/>
<circle cx="94.9" cy="473.32" r="1.61" fill="#8c1d36" stroke="#2a0a12" stroke-width="0.75"/>
<circle cx="92.3" cy="474.59" r="1.61" fill="#8c1d36" stroke="#2a0a12" stroke-width="0.75"/>
<circle cx="89.7" cy="476.18" r="1.61" fill="#8c1d36" stroke="#2a0a12" stroke-width="0.75"/>
<circle cx="94.9" cy="476.18" r="1.61" fill="#8c1d36" stroke="#2a0a12" stroke-width="0.75"/>
<circle cx="92.3" cy="477.46" r="1.61" fill="#8c1d36" stroke="#2a0a12" stroke-width="0.75"/>
<circle cx="90.8" cy="479.05" r="1.61" fill="#8c1d36" stroke="#2a0a12" stroke-width="0.75"/>
<circle cx="93.8" cy="479.05" r="1.61" fill="#8c1d36" stroke="#2a0a12" stroke-width="0.75"/>
<circle cx="104.8" cy="454.56" r="1.61" fill="#8c1d36" stroke="#2a0a12" stroke-width="0.75"/>
<circle cx="104.8" cy="460.92" r="1.61" fill="#8c1d36" stroke="#2a0a12" stroke-width="0.75"/>
<circle cx="102.3" cy="467.28" r="1.66" fill="#fff" stroke="#2a2a2a" stroke-width="0.75"/>
<circle cx="107.3" cy="467.92" r="1.66" fill="#fff" stroke="#2a2a2a" stroke-width="0.75"/>
<circle cx="104.8" cy="470.46" r="1.66" fill="#fff" stroke="#2a2a2a" stroke-width="0.75"/>
<circle cx="102.3" cy="473.64" r="1.61" fill="#8c1d36" stroke="#2a0a12" stroke-width="0.75"/>
<circle cx="107.3" cy="474.91" r="1.61" fill="#8c1d36" stroke="#2a0a12" stroke-width="0.75"/>
<circle cx="117.3" cy="451.38" r="1.61" fill="#8c1d36" stroke="#2a0a12" stroke-width="0.75"/>
<circle cx="115.3" cy="454.56" r="1.61" fill="#8c1d36" stroke="#2a0a12" stroke-width="0.75"/>
<circle cx="119.3" cy="459.01" r="1.61" fill="#8c1d36" stroke="#2a0a12" stroke-width="0.75"/>
<circle cx="117.3" cy="462.19" r="1.61" fill="#8c1d36" stroke="#2a0a12" stroke-width="0.75"/>
<circle cx="114.8" cy="466.01" r="1.66" fill="#fff" stroke="#2a2a2a" stroke-width="0.75"/>
<circle cx="119.8" cy="467.28" r="1.66" fill="#fff" stroke="#2a2a2a" stroke-width="0.75"/>
<circle cx="117.3" cy="469.82" r="1.66" fill="#fff" stroke="#2a2a2a" stroke-width="0.75"/>
<circle cx="114.8" cy="472.37" r="1.66" fill="#fff" stroke="#2a2a2a" stroke-width="0.75"/>
<circle cx="119.8" cy="473.64" r="1.66" fill="#fff" stroke="#2a2a2a" stroke-width="0.75"/>
<circle cx="127.3" cy="456.47" r="1.61" fill="#8c1d36" stroke="#2a0a12" stroke-width="0.75"/>
<circle cx="132.3" cy="456.47" r="1.61" fill="#8c1d36" stroke="#2a0a12" stroke-width="0.75"/>
<circle cx="129.8" cy="464.1" r="1.66" fill="#fff" stroke="#2a2a2a" stroke-width="0.75"/>
<circle cx="127.3" cy="466.01" r="1.66" fill="#fff" stroke="#2a2a2a" stroke-width="0.75"/>
<circle cx="140.8" cy="451.38" r="1.61" fill="#8c1d36" stroke="#2a0a12" stroke-width="0.75"/>
<circle cx="143.8" cy="452.02" r="1.61" fill="#8c1d36" stroke="#2a0a12" stroke-width="0.75"/>
<circle cx="142.3" cy="462.83" r="1.66" fill="#fff" stroke="#2a2a2a" stroke-width="0.75"/>
<circle cx="139.8" cy="466.01" r="1.66" fill="#fff" stroke="#2a2a2a" stroke-width="0.75"/>
<circle cx="144.8" cy="466.64" r="1.66" fill="#fff" stroke="#2a2a2a" stroke-width="0.75"/>
<circle cx="142.3" cy="472.37" r="1.61" fill="#8c1d36" stroke="#2a0a12" stroke-width="0.75"/>
<circle cx="154.8" cy="454.56" r="1.61" fill="#8c1d36" stroke="#2a0a12" stroke-width="0.75"/>
<circle cx="154.8" cy="460.92" r="1.61" fill="#8c1d36" stroke="#2a0a12" stroke-width="0.75"/>
<circle cx="152.3" cy="466.01" r="1.66" fill="#fff" stroke="#2a2a2a" stroke-width="0.75"/>
<circle cx="157.3" cy="467.28" r="1.66" fill="#fff" stroke="#2a2a2a" stroke-width="0.75"/>
<circle cx="154.8" cy="469.19" r="1.66" fill="#fff" stroke="#2a2a2a" stroke-width="0.75"/>
<circle cx="152.3" cy="471.73" r="1.66" fill="#fff" stroke="#2a2a2a" stroke-width="0.75"/>
<circle cx="157.3" cy="472.37" r="1.66" fill="#fff" stroke="#2a2a2a" stroke-width="0.75"/>
<line x1="46.5" y1="416.4" x2="46.5" y2="480.5" stroke="#1a1a1a" stroke-width="1.1" />
<line x1="46" y1="480" x2="158.5" y2="480" stroke="#1a1a1a" stroke-width="1.1" />
<line x1="43.7" y1="480" x2="46.5" y2="480" stroke="#1a1a1a" stroke-width="0.9" />
<text x="40" y="482.3" font-size="6.4" text-anchor="end" fill="#222" stroke="#222" stroke-width="0.12" >0.0</text>
<line x1="43.7" y1="467.28" x2="46.5" y2="467.28" stroke="#1a1a1a" stroke-width="0.9" />
<text x="40" y="469.58" font-size="6.4" text-anchor="end" fill="#222" stroke="#222" stroke-width="0.12" >0.2</text>
<line x1="43.7" y1="454.56" x2="46.5" y2="454.56" stroke="#1a1a1a" stroke-width="0.9" />
<text x="40" y="456.86" font-size="6.4" text-anchor="end" fill="#222" stroke="#222" stroke-width="0.12" >0.4</text>
<line x1="43.7" y1="441.84" x2="46.5" y2="441.84" stroke="#1a1a1a" stroke-width="0.9" />
<text x="40" y="444.14" font-size="6.4" text-anchor="end" fill="#222" stroke="#222" stroke-width="0.12" >0.6</text>
<line x1="43.7" y1="429.12" x2="46.5" y2="429.12" stroke="#1a1a1a" stroke-width="0.9" />
<text x="40" y="431.42" font-size="6.4" text-anchor="end" fill="#222" stroke="#222" stroke-width="0.12" >0.8</text>
<line x1="43.7" y1="416.4" x2="46.5" y2="416.4" stroke="#1a1a1a" stroke-width="0.9" />
<text x="40" y="418.7" font-size="6.4" text-anchor="end" fill="#222" stroke="#222" stroke-width="0.12" >1.0</text>
<line x1="46.5" y1="399.3" x2="46.5" y2="409.1" stroke="#1a1a1a" stroke-width="1.1" />
<line x1="43.7" y1="402.1" x2="46.5" y2="402.1" stroke="#1a1a1a" stroke-width="0.9" />
<line x1="43.7" y1="409.1" x2="48.7" y2="409.1" stroke="#1a1a1a" stroke-width="0.9" />
<line x1="43.7" y1="416.4" x2="48.7" y2="416.4" stroke="#1a1a1a" stroke-width="0.9" />
<text x="40" y="404.4" font-size="6.4" text-anchor="end" fill="#222" stroke="#222" stroke-width="0.12" >4.0</text>
<text x="40" y="411.4" font-size="6.4" text-anchor="end" fill="#222" stroke="#222" stroke-width="0.12" >3.8</text>
<line x1="54.8" y1="480" x2="54.8" y2="483.1" stroke="#1a1a1a" stroke-width="1" />
<line x1="67.3" y1="480" x2="67.3" y2="483.1" stroke="#1a1a1a" stroke-width="1" />
<line x1="79.8" y1="480" x2="79.8" y2="483.1" stroke="#1a1a1a" stroke-width="1" />
<line x1="92.3" y1="480" x2="92.3" y2="483.1" stroke="#1a1a1a" stroke-width="1" />
<line x1="104.8" y1="480" x2="104.8" y2="483.1" stroke="#1a1a1a" stroke-width="1" />
<line x1="117.3" y1="480" x2="117.3" y2="483.1" stroke="#1a1a1a" stroke-width="1" />
<line x1="129.8" y1="480" x2="129.8" y2="483.1" stroke="#1a1a1a" stroke-width="1" />
<line x1="142.3" y1="480" x2="142.3" y2="483.1" stroke="#1a1a1a" stroke-width="1" />
<line x1="154.8" y1="480" x2="154.8" y2="483.1" stroke="#1a1a1a" stroke-width="1" />
<text x="57" y="490.7" font-size="6.3" text-anchor="end" fill="#222" stroke="#222" stroke-width="0.12" transform="rotate(-45 57 490.7)">+/+</text>
<text x="69.5" y="490.7" font-size="6.3" text-anchor="end" fill="#222" stroke="#222" stroke-width="0.12" transform="rotate(-45 69.5 490.7)"><tspan font-style="italic">frs</tspan>/+</text>
<text x="82" y="490.7" font-size="6.3" text-anchor="end" fill="#222" stroke="#222" stroke-width="0.12" transform="rotate(-45 82 490.7)"><tspan font-style="italic">frs/frs</tspan></text>
<text x="94.5" y="490.7" font-size="6.3" text-anchor="end" fill="#222" stroke="#222" stroke-width="0.12" transform="rotate(-45 94.5 490.7)">+/+</text>
<text x="107" y="490.7" font-size="6.3" text-anchor="end" fill="#222" stroke="#222" stroke-width="0.12" transform="rotate(-45 107 490.7)"><tspan font-style="italic">frs</tspan>/+</text>
<text x="119.5" y="490.7" font-size="6.3" text-anchor="end" fill="#222" stroke="#222" stroke-width="0.12" transform="rotate(-45 119.5 490.7)"><tspan font-style="italic">frs/frs</tspan></text>
<text x="132" y="490.7" font-size="6.3" text-anchor="end" fill="#222" stroke="#222" stroke-width="0.12" transform="rotate(-45 132 490.7)">+/+</text>
<text x="144.5" y="490.7" font-size="6.3" text-anchor="end" fill="#222" stroke="#222" stroke-width="0.12" transform="rotate(-45 144.5 490.7)"><tspan font-style="italic">frs</tspan>/+</text>
<text x="157" y="490.7" font-size="6.3" text-anchor="end" fill="#222" stroke="#222" stroke-width="0.12" transform="rotate(-45 157 490.7)"><tspan font-style="italic">frs/frs</tspan></text>
<line x1="84.4" y1="503.6" x2="117.8" y2="503.6" stroke="#5d6068" stroke-width="1.5" />
<text x="101.8" y="512.4" font-size="6.5" text-anchor="middle" fill="#c73a5c" stroke="#c73a5c" stroke-width="0.12" textLength="32.4" lengthAdjust="spacingAndGlyphs" >+10uM Iron</text>
<line x1="122" y1="503.6" x2="155.5" y2="503.6" stroke="#5d6068" stroke-width="1.5" />
<text x="139.45" y="512.4" font-size="6.5" text-anchor="middle" fill="#6a5f58" stroke="#6a5f58" stroke-width="0.12" textLength="32.4" lengthAdjust="spacingAndGlyphs" >+15uM Iron</text>
<text x="0" y="0" font-size="8.8" text-anchor="middle" fill="#222" stroke="#222" stroke-width="0.22" textLength="65" lengthAdjust="spacingAndGlyphs" transform="translate(26.27 440.6) rotate(-90)">Percent cd41:GFP+ cells</text>
<text x="7.3" y="391.8" font-size="11.5" text-anchor="start" fill="#111" font-weight="bold" >G</text>
<line x1="219.9" y1="464.23" x2="340.5" y2="464.23" stroke="#d07a8c" stroke-width="1" stroke-dasharray="3.2 2.2"/>
<line x1="219.9" y1="474.47" x2="340.5" y2="474.47" stroke="#d07a8c" stroke-width="1" stroke-dasharray="3.2 2.2"/>
<rect x="224.25" y="469.82" width="8.3" height="10.18" fill="#485a69"/>
<rect x="236.75" y="469.82" width="8.3" height="10.18" fill="#485a69"/>
<rect x="249.25" y="436.12" width="8.3" height="43.88" fill="#485a69"/>
<rect x="261.75" y="476.18" width="8.3" height="3.82" fill="#8e9aa1"/>
<rect x="274.25" y="472.37" width="8.3" height="7.63" fill="#8e9aa1"/>
<rect x="286.75" y="467.92" width="8.3" height="12.08" fill="#8e9aa1"/>
<rect x="299.25" y="467.92" width="8.3" height="12.08" fill="#d9dcdf"/>
<rect x="311.75" y="469.82" width="8.3" height="10.18" fill="#d9dcdf"/>
<rect x="324.25" y="469.19" width="8.3" height="10.81" fill="#d9dcdf"/>
<line x1="219.9" y1="464.23" x2="340.5" y2="464.23" stroke="#d07a8c" stroke-width="0.9" stroke-dasharray="3.2 2.2" opacity="0.55"/>
<line x1="219.9" y1="474.47" x2="340.5" y2="474.47" stroke="#d07a8c" stroke-width="0.9" stroke-dasharray="3.2 2.2" opacity="0.55"/>
<line x1="228.4" y1="465.37" x2="228.4" y2="473.64" stroke="#2a2a2a" stroke-width="0.85" />
<line x1="226.2" y1="465.37" x2="230.6" y2="465.37" stroke="#2a2a2a" stroke-width="0.85" />
<line x1="226.2" y1="473.64" x2="230.6" y2="473.64" stroke="#2a2a2a" stroke-width="0.85" />
<line x1="240.9" y1="462.19" x2="240.9" y2="476.18" stroke="#2a2a2a" stroke-width="0.85" />
<line x1="238.7" y1="462.19" x2="243.1" y2="462.19" stroke="#2a2a2a" stroke-width="0.85" />
<line x1="238.7" y1="476.18" x2="243.1" y2="476.18" stroke="#2a2a2a" stroke-width="0.85" />
<line x1="253.4" y1="419.58" x2="253.4" y2="454.56" stroke="#2a2a2a" stroke-width="0.85" />
<line x1="251.2" y1="419.58" x2="255.6" y2="419.58" stroke="#2a2a2a" stroke-width="0.85" />
<line x1="251.2" y1="454.56" x2="255.6" y2="454.56" stroke="#2a2a2a" stroke-width="0.85" />
<line x1="290.9" y1="462.19" x2="290.9" y2="473.64" stroke="#2a2a2a" stroke-width="0.85" />
<line x1="288.7" y1="462.19" x2="293.1" y2="462.19" stroke="#2a2a2a" stroke-width="0.85" />
<line x1="288.7" y1="473.64" x2="293.1" y2="473.64" stroke="#2a2a2a" stroke-width="0.85" />
<line x1="303.4" y1="463.46" x2="303.4" y2="472.37" stroke="#666" stroke-width="0.85" />
<line x1="301.2" y1="463.46" x2="305.6" y2="463.46" stroke="#666" stroke-width="0.85" />
<line x1="301.2" y1="472.37" x2="305.6" y2="472.37" stroke="#666" stroke-width="0.85" />
<line x1="315.9" y1="463.46" x2="315.9" y2="474.91" stroke="#666" stroke-width="0.85" />
<line x1="313.7" y1="463.46" x2="318.1" y2="463.46" stroke="#666" stroke-width="0.85" />
<line x1="313.7" y1="474.91" x2="318.1" y2="474.91" stroke="#666" stroke-width="0.85" />
<circle cx="225.9" cy="466.01" r="1.66" fill="#fff" stroke="#2a2a2a" stroke-width="0.75"/>
<circle cx="230.9" cy="465.37" r="1.66" fill="#fff" stroke="#2a2a2a" stroke-width="0.75"/>
<circle cx="228.4" cy="468.55" r="1.61" fill="#8c1d36" stroke="#2a0a12" stroke-width="0.75"/>
<circle cx="226.4" cy="472.37" r="1.66" fill="#fff" stroke="#2a2a2a" stroke-width="0.75"/>
<circle cx="230.4" cy="473.64" r="1.61" fill="#8c1d36" stroke="#2a0a12" stroke-width="0.75"/>
<circle cx="240.9" cy="448.84" r="1.61" fill="#8c1d36" stroke="#2a0a12" stroke-width="0.75"/>
<circle cx="240.9" cy="460.92" r="1.61" fill="#8c1d36" stroke="#2a0a12" stroke-width="0.75"/>
<circle cx="242.4" cy="463.46" r="1.61" fill="#8c1d36" stroke="#2a0a12" stroke-width="0.75"/>
<circle cx="238.4" cy="469.82" r="1.66" fill="#fff" stroke="#2a2a2a" stroke-width="0.75"/>
<circle cx="243.4" cy="470.46" r="1.66" fill="#fff" stroke="#2a2a2a" stroke-width="0.75"/>
<circle cx="240.9" cy="473.64" r="1.61" fill="#8c1d36" stroke="#2a0a12" stroke-width="0.75"/>
<circle cx="238.4" cy="476.18" r="1.61" fill="#8c1d36" stroke="#2a0a12" stroke-width="0.75"/>
<circle cx="243.4" cy="476.82" r="1.61" fill="#8c1d36" stroke="#2a0a12" stroke-width="0.75"/>
<circle cx="253.4" cy="402.8" r="1.61" fill="#8c1d36" stroke="#2a0a12" stroke-width="0.75"/>
<circle cx="253.4" cy="419.58" r="1.61" fill="#8c1d36" stroke="#2a0a12" stroke-width="0.75"/>
<circle cx="253.4" cy="456.47" r="1.61" fill="#8c1d36" stroke="#2a0a12" stroke-width="0.75"/>
<circle cx="250.9" cy="467.28" r="1.66" fill="#fff" stroke="#2a2a2a" stroke-width="0.75"/>
<circle cx="255.9" cy="467.28" r="1.66" fill="#fff" stroke="#2a2a2a" stroke-width="0.75"/>
<circle cx="253.4" cy="470.46" r="1.66" fill="#fff" stroke="#2a2a2a" stroke-width="0.75"/>
<circle cx="253.4" cy="474.91" r="1.61" fill="#8c1d36" stroke="#2a0a12" stroke-width="0.75"/>
<circle cx="263.9" cy="474.28" r="1.66" fill="#fff" stroke="#2a2a2a" stroke-width="0.75"/>
<circle cx="267.9" cy="475.55" r="1.61" fill="#8c1d36" stroke="#2a0a12" stroke-width="0.75"/>
<circle cx="265.9" cy="477.46" r="1.61" fill="#8c1d36" stroke="#2a0a12" stroke-width="0.75"/>
<circle cx="263.4" cy="478.09" r="1.61" fill="#8c1d36" stroke="#2a0a12" stroke-width="0.75"/>
<circle cx="268.4" cy="478.09" r="1.61" fill="#8c1d36" stroke="#2a0a12" stroke-width="0.75"/>
<circle cx="278.4" cy="459.65" r="1.61" fill="#8c1d36" stroke="#2a0a12" stroke-width="0.75"/>
<circle cx="278.4" cy="464.74" r="1.66" fill="#fff" stroke="#2a2a2a" stroke-width="0.75"/>
<circle cx="275.9" cy="471.1" r="1.66" fill="#fff" stroke="#2a2a2a" stroke-width="0.75"/>
<circle cx="280.9" cy="472.37" r="1.66" fill="#fff" stroke="#2a2a2a" stroke-width="0.75"/>
<circle cx="278.4" cy="474.91" r="1.61" fill="#8c1d36" stroke="#2a0a12" stroke-width="0.75"/>
<circle cx="275.9" cy="476.18" r="1.61" fill="#8c1d36" stroke="#2a0a12" stroke-width="0.75"/>
<circle cx="280.9" cy="476.82" r="1.61" fill="#8c1d36" stroke="#2a0a12" stroke-width="0.75"/>
<circle cx="290.9" cy="457.1" r="1.61" fill="#8c1d36" stroke="#2a0a12" stroke-width="0.75"/>
<circle cx="290.9" cy="459.65" r="1.61" fill="#8c1d36" stroke="#2a0a12" stroke-width="0.75"/>
<circle cx="288.4" cy="462.83" r="1.61" fill="#8c1d36" stroke="#2a0a12" stroke-width="0.75"/>
<circle cx="293.4" cy="463.46" r="1.61" fill="#8c1d36" stroke="#2a0a12" stroke-width="0.75"/>
<circle cx="290.9" cy="468.55" r="1.66" fill="#fff" stroke="#2a2a2a" stroke-width="0.75"/>
<circle cx="288.4" cy="473.64" r="1.61" fill="#8c1d36" stroke="#2a0a12" stroke-width="0.75"/>
<circle cx="293.4" cy="475.55" r="1.61" fill="#8c1d36" stroke="#2a0a12" stroke-width="0.75"/>
<circle cx="300.9" cy="462.83" r="1.61" fill="#8c1d36" stroke="#2a0a12" stroke-width="0.75"/>
<circle cx="305.9" cy="462.83" r="1.61" fill="#8c1d36" stroke="#2a0a12" stroke-width="0.75"/>
<circle cx="303.4" cy="467.28" r="1.66" fill="#fff" stroke="#2a2a2a" stroke-width="0.75"/>
<circle cx="300.9" cy="470.46" r="1.66" fill="#fff" stroke="#2a2a2a" stroke-width="0.75"/>
<circle cx="315.9" cy="456.47" r="1.61" fill="#8c1d36" stroke="#2a0a12" stroke-width="0.75"/>
<circle cx="315.9" cy="459.01" r="1.61" fill="#8c1d36" stroke="#2a0a12" stroke-width="0.75"/>
<circle cx="313.4" cy="469.82" r="1.66" fill="#fff" stroke="#2a2a2a" stroke-width="0.75"/>
<circle cx="318.4" cy="470.46" r="1.66" fill="#fff" stroke="#2a2a2a" stroke-width="0.75"/>
<circle cx="315.9" cy="473" r="1.61" fill="#8c1d36" stroke="#2a0a12" stroke-width="0.75"/>
<circle cx="315.9" cy="474.91" r="1.61" fill="#8c1d36" stroke="#2a0a12" stroke-width="0.75"/>
<circle cx="328.4" cy="459.65" r="1.61" fill="#8c1d36" stroke="#2a0a12" stroke-width="0.75"/>
<circle cx="326.4" cy="464.74" r="1.66" fill="#fff" stroke="#2a2a2a" stroke-width="0.75"/>
<circle cx="330.4" cy="466.01" r="1.66" fill="#fff" stroke="#2a2a2a" stroke-width="0.75"/>
<circle cx="325.9" cy="469.82" r="1.66" fill="#fff" stroke="#2a2a2a" stroke-width="0.75"/>
<circle cx="330.9" cy="470.46" r="1.66" fill="#fff" stroke="#2a2a2a" stroke-width="0.75"/>
<circle cx="328.4" cy="473.64" r="1.66" fill="#fff" stroke="#2a2a2a" stroke-width="0.75"/>
<line x1="219.9" y1="416.4" x2="219.9" y2="480.5" stroke="#1a1a1a" stroke-width="1.1" />
<line x1="219.4" y1="480" x2="337.5" y2="480" stroke="#1a1a1a" stroke-width="1.1" />
<line x1="217.1" y1="480" x2="219.9" y2="480" stroke="#1a1a1a" stroke-width="0.9" />
<text x="213.4" y="482.3" font-size="6.4" text-anchor="end" fill="#222" stroke="#222" stroke-width="0.12" >0.0</text>
<line x1="217.1" y1="467.28" x2="219.9" y2="467.28" stroke="#1a1a1a" stroke-width="0.9" />
<text x="213.4" y="469.58" font-size="6.4" text-anchor="end" fill="#222" stroke="#222" stroke-width="0.12" >0.2</text>
<line x1="217.1" y1="454.56" x2="219.9" y2="454.56" stroke="#1a1a1a" stroke-width="0.9" />
<text x="213.4" y="456.86" font-size="6.4" text-anchor="end" fill="#222" stroke="#222" stroke-width="0.12" >0.4</text>
<line x1="217.1" y1="441.84" x2="219.9" y2="441.84" stroke="#1a1a1a" stroke-width="0.9" />
<text x="213.4" y="444.14" font-size="6.4" text-anchor="end" fill="#222" stroke="#222" stroke-width="0.12" >0.6</text>
<line x1="217.1" y1="429.12" x2="219.9" y2="429.12" stroke="#1a1a1a" stroke-width="0.9" />
<text x="213.4" y="431.42" font-size="6.4" text-anchor="end" fill="#222" stroke="#222" stroke-width="0.12" >0.8</text>
<line x1="217.1" y1="416.4" x2="219.9" y2="416.4" stroke="#1a1a1a" stroke-width="0.9" />
<text x="213.4" y="418.7" font-size="6.4" text-anchor="end" fill="#222" stroke="#222" stroke-width="0.12" >1.0</text>
<line x1="219.9" y1="399.3" x2="219.9" y2="409.1" stroke="#1a1a1a" stroke-width="1.1" />
<line x1="217.1" y1="402.1" x2="219.9" y2="402.1" stroke="#1a1a1a" stroke-width="0.9" />
<line x1="217.1" y1="409.1" x2="222.1" y2="409.1" stroke="#1a1a1a" stroke-width="0.9" />
<line x1="217.1" y1="416.4" x2="222.1" y2="416.4" stroke="#1a1a1a" stroke-width="0.9" />
<text x="213.4" y="404.4" font-size="6.4" text-anchor="end" fill="#222" stroke="#222" stroke-width="0.12" >4.0</text>
<text x="213.4" y="411.4" font-size="6.4" text-anchor="end" fill="#222" stroke="#222" stroke-width="0.12" >3.8</text>
<line x1="228.4" y1="480" x2="228.4" y2="483.1" stroke="#1a1a1a" stroke-width="1" />
<line x1="240.9" y1="480" x2="240.9" y2="483.1" stroke="#1a1a1a" stroke-width="1" />
<line x1="253.4" y1="480" x2="253.4" y2="483.1" stroke="#1a1a1a" stroke-width="1" />
<line x1="265.9" y1="480" x2="265.9" y2="483.1" stroke="#1a1a1a" stroke-width="1" />
<line x1="278.4" y1="480" x2="278.4" y2="483.1" stroke="#1a1a1a" stroke-width="1" />
<line x1="290.9" y1="480" x2="290.9" y2="483.1" stroke="#1a1a1a" stroke-width="1" />
<line x1="303.4" y1="480" x2="303.4" y2="483.1" stroke="#1a1a1a" stroke-width="1" />
<line x1="315.9" y1="480" x2="315.9" y2="483.1" stroke="#1a1a1a" stroke-width="1" />
<line x1="328.4" y1="480" x2="328.4" y2="483.1" stroke="#1a1a1a" stroke-width="1" />
<text x="230.6" y="490.7" font-size="6.3" text-anchor="end" fill="#222" stroke="#222" stroke-width="0.12" transform="rotate(-45 230.6 490.7)">+/+</text>
<text x="243.1" y="490.7" font-size="6.3" text-anchor="end" fill="#222" stroke="#222" stroke-width="0.12" transform="rotate(-45 243.1 490.7)"><tspan font-style="italic">frs</tspan>/+</text>
<text x="255.6" y="490.7" font-size="6.3" text-anchor="end" fill="#222" stroke="#222" stroke-width="0.12" transform="rotate(-45 255.6 490.7)"><tspan font-style="italic">frs/frs</tspan></text>
<text x="268.1" y="490.7" font-size="6.3" text-anchor="end" fill="#222" stroke="#222" stroke-width="0.12" transform="rotate(-45 268.1 490.7)">+/+</text>
<text x="280.6" y="490.7" font-size="6.3" text-anchor="end" fill="#222" stroke="#222" stroke-width="0.12" transform="rotate(-45 280.6 490.7)"><tspan font-style="italic">frs</tspan>/+</text>
<text x="293.1" y="490.7" font-size="6.3" text-anchor="end" fill="#222" stroke="#222" stroke-width="0.12" transform="rotate(-45 293.1 490.7)"><tspan font-style="italic">frs/frs</tspan></text>
<text x="305.6" y="490.7" font-size="6.3" text-anchor="end" fill="#222" stroke="#222" stroke-width="0.12" transform="rotate(-45 305.6 490.7)">+/+</text>
<text x="318.1" y="490.7" font-size="6.3" text-anchor="end" fill="#222" stroke="#222" stroke-width="0.12" transform="rotate(-45 318.1 490.7)"><tspan font-style="italic">frs</tspan>/+</text>
<text x="330.6" y="490.7" font-size="6.3" text-anchor="end" fill="#222" stroke="#222" stroke-width="0.12" transform="rotate(-45 330.6 490.7)"><tspan font-style="italic">frs/frs</tspan></text>
<line x1="258" y1="503.6" x2="291.5" y2="503.6" stroke="#5d6068" stroke-width="1.5" />
<text x="275.45" y="512.4" font-size="6.5" text-anchor="middle" fill="#c73a5c" stroke="#c73a5c" stroke-width="0.12" textLength="32.4" lengthAdjust="spacingAndGlyphs" >+10uM Iron</text>
<line x1="295.6" y1="503.6" x2="329" y2="503.6" stroke="#5d6068" stroke-width="1.5" />
<text x="313" y="512.4" font-size="6.5" text-anchor="middle" fill="#6a5f58" stroke="#6a5f58" stroke-width="0.12" textLength="32.4" lengthAdjust="spacingAndGlyphs" >+15uM Iron</text>
<text x="0" y="0" font-size="8.8" text-anchor="middle" fill="#222" stroke="#222" stroke-width="0.22" textLength="68.5" lengthAdjust="spacingAndGlyphs" transform="translate(200.47 441.5) rotate(-90)">Percent cd41:GFP-Lo cells</text>
<text x="181.2" y="391.8" font-size="11.5" text-anchor="start" fill="#111" font-weight="bold" >H</text>
<line x1="395" y1="456.48" x2="515.7" y2="456.48" stroke="#d07a8c" stroke-width="1" stroke-dasharray="3.2 2.2"/>
<line x1="395" y1="470.75" x2="515.7" y2="470.75" stroke="#d07a8c" stroke-width="1" stroke-dasharray="3.2 2.2"/>
<rect x="399.3" y="465.1" width="8.2" height="14.9" fill="#485a69"/>
<rect x="411.82" y="462.36" width="8.2" height="17.64" fill="#485a69"/>
<rect x="424.34" y="470.2" width="8.2" height="9.8" fill="#485a69"/>
<rect x="436.86" y="462.36" width="8.2" height="17.64" fill="#8e9aa1"/>
<rect x="449.38" y="460.4" width="8.2" height="19.6" fill="#8e9aa1"/>
<rect x="461.9" y="457.66" width="8.2" height="22.34" fill="#8e9aa1"/>
<rect x="474.42" y="446.29" width="8.2" height="33.71" fill="#d9dcdf"/>
<rect x="486.94" y="454.91" width="8.2" height="25.09" fill="#d9dcdf"/>
<rect x="499.46" y="462.36" width="8.2" height="17.64" fill="#d9dcdf"/>
<line x1="395" y1="456.48" x2="515.7" y2="456.48" stroke="#d07a8c" stroke-width="0.9" stroke-dasharray="3.2 2.2" opacity="0.55"/>
<line x1="395" y1="470.75" x2="515.7" y2="470.75" stroke="#d07a8c" stroke-width="0.9" stroke-dasharray="3.2 2.2" opacity="0.55"/>
<line x1="403.4" y1="460.4" x2="403.4" y2="468.24" stroke="#2a2a2a" stroke-width="0.85" />
<line x1="401.2" y1="460.4" x2="405.6" y2="460.4" stroke="#2a2a2a" stroke-width="0.85" />
<line x1="401.2" y1="468.24" x2="405.6" y2="468.24" stroke="#2a2a2a" stroke-width="0.85" />
<line x1="415.92" y1="446.68" x2="415.92" y2="472.16" stroke="#2a2a2a" stroke-width="0.85" />
<line x1="413.72" y1="446.68" x2="418.12" y2="446.68" stroke="#2a2a2a" stroke-width="0.85" />
<line x1="413.72" y1="472.16" x2="418.12" y2="472.16" stroke="#2a2a2a" stroke-width="0.85" />
<line x1="428.44" y1="458.44" x2="428.44" y2="476.08" stroke="#2a2a2a" stroke-width="0.85" />
<line x1="426.24" y1="458.44" x2="430.64" y2="458.44" stroke="#2a2a2a" stroke-width="0.85" />
<line x1="426.24" y1="476.08" x2="430.64" y2="476.08" stroke="#2a2a2a" stroke-width="0.85" />
<line x1="440.96" y1="457.26" x2="440.96" y2="468.24" stroke="#2a2a2a" stroke-width="0.85" />
<line x1="438.76" y1="457.26" x2="443.16" y2="457.26" stroke="#2a2a2a" stroke-width="0.85" />
<line x1="438.76" y1="468.24" x2="443.16" y2="468.24" stroke="#2a2a2a" stroke-width="0.85" />
<line x1="453.48" y1="454.52" x2="453.48" y2="468.24" stroke="#2a2a2a" stroke-width="0.85" />
<line x1="451.28" y1="454.52" x2="455.68" y2="454.52" stroke="#2a2a2a" stroke-width="0.85" />
<line x1="451.28" y1="468.24" x2="455.68" y2="468.24" stroke="#2a2a2a" stroke-width="0.85" />
<line x1="466" y1="444.72" x2="466" y2="468.24" stroke="#2a2a2a" stroke-width="0.85" />
<line x1="463.8" y1="444.72" x2="468.2" y2="444.72" stroke="#2a2a2a" stroke-width="0.85" />
<line x1="463.8" y1="468.24" x2="468.2" y2="468.24" stroke="#2a2a2a" stroke-width="0.85" />
<line x1="478.52" y1="440.8" x2="478.52" y2="453.34" stroke="#666" stroke-width="0.85" />
<line x1="476.32" y1="440.8" x2="480.72" y2="440.8" stroke="#666" stroke-width="0.85" />
<line x1="476.32" y1="453.34" x2="480.72" y2="453.34" stroke="#666" stroke-width="0.85" />
<line x1="491.04" y1="445.9" x2="491.04" y2="468.24" stroke="#666" stroke-width="0.85" />
<line x1="488.84" y1="445.9" x2="493.24" y2="445.9" stroke="#666" stroke-width="0.85" />
<line x1="488.84" y1="468.24" x2="493.24" y2="468.24" stroke="#666" stroke-width="0.85" />
<line x1="503.56" y1="457.26" x2="503.56" y2="468.24" stroke="#666" stroke-width="0.85" />
<line x1="501.36" y1="457.26" x2="505.76" y2="457.26" stroke="#666" stroke-width="0.85" />
<line x1="501.36" y1="468.24" x2="505.76" y2="468.24" stroke="#666" stroke-width="0.85" />
<circle cx="403.4" cy="456.48" r="1.61" fill="#8c1d36" stroke="#2a0a12" stroke-width="0.75"/>
<circle cx="400.9" cy="464.32" r="1.66" fill="#fff" stroke="#2a2a2a" stroke-width="0.75"/>
<circle cx="405.9" cy="464.32" r="1.66" fill="#fff" stroke="#2a2a2a" stroke-width="0.75"/>
<circle cx="403.4" cy="466.28" r="1.66" fill="#fff" stroke="#2a2a2a" stroke-width="0.75"/>
<circle cx="403.4" cy="470.2" r="1.61" fill="#8c1d36" stroke="#2a0a12" stroke-width="0.75"/>
<circle cx="415.92" cy="421.2" r="1.61" fill="#8c1d36" stroke="#2a0a12" stroke-width="0.75"/>
<circle cx="415.92" cy="436.88" r="1.61" fill="#8c1d36" stroke="#2a0a12" stroke-width="0.75"/>
<circle cx="415.92" cy="445.5" r="1.61" fill="#8c1d36" stroke="#2a0a12" stroke-width="0.75"/>
<circle cx="415.92" cy="456.48" r="1.61" fill="#8c1d36" stroke="#2a0a12" stroke-width="0.75"/>
<circle cx="415.92" cy="464.32" r="1.66" fill="#fff" stroke="#2a2a2a" stroke-width="0.75"/>
<circle cx="413.92" cy="470.2" r="1.61" fill="#8c1d36" stroke="#2a0a12" stroke-width="0.75"/>
<circle cx="417.92" cy="472.16" r="1.61" fill="#8c1d36" stroke="#2a0a12" stroke-width="0.75"/>
<circle cx="415.92" cy="479.22" r="1.61" fill="#8c1d36" stroke="#2a0a12" stroke-width="0.75"/>
<circle cx="428.44" cy="442.76" r="1.61" fill="#8c1d36" stroke="#2a0a12" stroke-width="0.75"/>
<circle cx="428.44" cy="464.32" r="1.66" fill="#fff" stroke="#2a2a2a" stroke-width="0.75"/>
<circle cx="425.94" cy="470.2" r="1.61" fill="#8c1d36" stroke="#2a0a12" stroke-width="0.75"/>
<circle cx="430.94" cy="471.38" r="1.61" fill="#8c1d36" stroke="#2a0a12" stroke-width="0.75"/>
<circle cx="428.44" cy="480" r="1.61" fill="#8c1d36" stroke="#2a0a12" stroke-width="0.75"/>
<circle cx="440.96" cy="457.26" r="1.66" fill="#fff" stroke="#2a2a2a" stroke-width="0.75"/>
<circle cx="438.46" cy="468.24" r="1.66" fill="#fff" stroke="#2a2a2a" stroke-width="0.75"/>
<circle cx="443.46" cy="468.24" r="1.66" fill="#fff" stroke="#2a2a2a" stroke-width="0.75"/>
<circle cx="440.96" cy="472.16" r="1.61" fill="#8c1d36" stroke="#2a0a12" stroke-width="0.75"/>
<circle cx="440.96" cy="480" r="1.61" fill="#8c1d36" stroke="#2a0a12" stroke-width="0.75"/>
<circle cx="453.48" cy="447.86" r="1.61" fill="#8c1d36" stroke="#2a0a12" stroke-width="0.75"/>
<circle cx="451.48" cy="456.48" r="1.61" fill="#8c1d36" stroke="#2a0a12" stroke-width="0.75"/>
<circle cx="455.48" cy="457.26" r="1.66" fill="#fff" stroke="#2a2a2a" stroke-width="0.75"/>
<circle cx="450.98" cy="462.36" r="1.66" fill="#fff" stroke="#2a2a2a" stroke-width="0.75"/>
<circle cx="455.98" cy="464.32" r="1.66" fill="#fff" stroke="#2a2a2a" stroke-width="0.75"/>
<circle cx="453.48" cy="470.2" r="1.61" fill="#8c1d36" stroke="#2a0a12" stroke-width="0.75"/>
<circle cx="452.48" cy="479.22" r="1.61" fill="#8c1d36" stroke="#2a0a12" stroke-width="0.75"/>
<circle cx="466" cy="425.12" r="1.61" fill="#8c1d36" stroke="#2a0a12" stroke-width="0.75"/>
<circle cx="466" cy="444.72" r="1.66" fill="#2e1a22"/>
<circle cx="466" cy="455.3" r="1.61" fill="#8c1d36" stroke="#2a0a12" stroke-width="0.75"/>
<circle cx="463.5" cy="464.32" r="1.66" fill="#fff" stroke="#2a2a2a" stroke-width="0.75"/>
<circle cx="468.5" cy="466.28" r="1.66" fill="#fff" stroke="#2a2a2a" stroke-width="0.75"/>
<circle cx="466" cy="469.02" r="1.66" fill="#fff" stroke="#2a2a2a" stroke-width="0.75"/>
<circle cx="476.52" cy="442.76" r="1.61" fill="#8c1d36" stroke="#2a0a12" stroke-width="0.75"/>
<circle cx="480.52" cy="440.8" r="1.61" fill="#8c1d36" stroke="#2a0a12" stroke-width="0.75"/>
<circle cx="481.32" cy="446.68" r="1.61" fill="#8c1d36" stroke="#2a0a12" stroke-width="0.75"/>
<circle cx="478.52" cy="456.48" r="1.66" fill="#fff" stroke="#2a2a2a" stroke-width="0.75"/>
<circle cx="491.04" cy="432.96" r="1.61" fill="#8c1d36" stroke="#2a0a12" stroke-width="0.75"/>
<circle cx="489.04" cy="454.52" r="1.61" fill="#8c1d36" stroke="#2a0a12" stroke-width="0.75"/>
<circle cx="493.04" cy="454.91" r="1.61" fill="#8c1d36" stroke="#2a0a12" stroke-width="0.75"/>
<circle cx="491.04" cy="468.24" r="1.61" fill="#8c1d36" stroke="#2a0a12" stroke-width="0.75"/>
<circle cx="503.56" cy="451.38" r="1.61" fill="#8c1d36" stroke="#2a0a12" stroke-width="0.75"/>
<circle cx="501.56" cy="456.48" r="1.66" fill="#fff" stroke="#2a2a2a" stroke-width="0.75"/>
<circle cx="505.56" cy="457.26" r="1.66" fill="#fff" stroke="#2a2a2a" stroke-width="0.75"/>
<circle cx="501.06" cy="464.32" r="1.66" fill="#fff" stroke="#2a2a2a" stroke-width="0.75"/>
<circle cx="506.06" cy="466.28" r="1.66" fill="#fff" stroke="#2a2a2a" stroke-width="0.75"/>
<circle cx="503.56" cy="470.2" r="1.61" fill="#8c1d36" stroke="#2a0a12" stroke-width="0.75"/>
<line x1="395" y1="398.8" x2="395" y2="480.5" stroke="#1a1a1a" stroke-width="1.1" />
<line x1="394.5" y1="480" x2="512.7" y2="480" stroke="#1a1a1a" stroke-width="1.1" />
<line x1="392.2" y1="480" x2="395" y2="480" stroke="#1a1a1a" stroke-width="0.9" />
<text x="388.5" y="482.3" font-size="6.4" text-anchor="end" fill="#222" stroke="#222" stroke-width="0.12" >0.00</text>
<line x1="392.2" y1="460.4" x2="395" y2="460.4" stroke="#1a1a1a" stroke-width="0.9" />
<text x="388.5" y="462.7" font-size="6.4" text-anchor="end" fill="#222" stroke="#222" stroke-width="0.12" >0.05</text>
<line x1="392.2" y1="440.8" x2="395" y2="440.8" stroke="#1a1a1a" stroke-width="0.9" />
<text x="388.5" y="443.1" font-size="6.4" text-anchor="end" fill="#222" stroke="#222" stroke-width="0.12" >0.10</text>
<line x1="392.2" y1="421.2" x2="395" y2="421.2" stroke="#1a1a1a" stroke-width="0.9" />
<text x="388.5" y="423.5" font-size="6.4" text-anchor="end" fill="#222" stroke="#222" stroke-width="0.12" >0.15</text>
<line x1="392.2" y1="401.6" x2="395" y2="401.6" stroke="#1a1a1a" stroke-width="0.9" />
<text x="388.5" y="403.9" font-size="6.4" text-anchor="end" fill="#222" stroke="#222" stroke-width="0.12" >0.20</text>
<line x1="403.4" y1="480" x2="403.4" y2="483.1" stroke="#1a1a1a" stroke-width="1" />
<line x1="415.92" y1="480" x2="415.92" y2="483.1" stroke="#1a1a1a" stroke-width="1" />
<line x1="428.44" y1="480" x2="428.44" y2="483.1" stroke="#1a1a1a" stroke-width="1" />
<line x1="440.96" y1="480" x2="440.96" y2="483.1" stroke="#1a1a1a" stroke-width="1" />
<line x1="453.48" y1="480" x2="453.48" y2="483.1" stroke="#1a1a1a" stroke-width="1" />
<line x1="466" y1="480" x2="466" y2="483.1" stroke="#1a1a1a" stroke-width="1" />
<line x1="478.52" y1="480" x2="478.52" y2="483.1" stroke="#1a1a1a" stroke-width="1" />
<line x1="491.04" y1="480" x2="491.04" y2="483.1" stroke="#1a1a1a" stroke-width="1" />
<line x1="503.56" y1="480" x2="503.56" y2="483.1" stroke="#1a1a1a" stroke-width="1" />
<text x="405.6" y="490.7" font-size="6.3" text-anchor="end" fill="#222" stroke="#222" stroke-width="0.12" transform="rotate(-45 405.6 490.7)">+/+</text>
<text x="418.12" y="490.7" font-size="6.3" text-anchor="end" fill="#222" stroke="#222" stroke-width="0.12" transform="rotate(-45 418.12 490.7)"><tspan font-style="italic">frs</tspan>/+</text>
<text x="430.64" y="490.7" font-size="6.3" text-anchor="end" fill="#222" stroke="#222" stroke-width="0.12" transform="rotate(-45 430.64 490.7)"><tspan font-style="italic">frs/frs</tspan></text>
<text x="443.16" y="490.7" font-size="6.3" text-anchor="end" fill="#222" stroke="#222" stroke-width="0.12" transform="rotate(-45 443.16 490.7)">+/+</text>
<text x="455.68" y="490.7" font-size="6.3" text-anchor="end" fill="#222" stroke="#222" stroke-width="0.12" transform="rotate(-45 455.68 490.7)"><tspan font-style="italic">frs</tspan>/+</text>
<text x="468.2" y="490.7" font-size="6.3" text-anchor="end" fill="#222" stroke="#222" stroke-width="0.12" transform="rotate(-45 468.2 490.7)"><tspan font-style="italic">frs/frs</tspan></text>
<text x="480.72" y="490.7" font-size="6.3" text-anchor="end" fill="#222" stroke="#222" stroke-width="0.12" transform="rotate(-45 480.72 490.7)">+/+</text>
<text x="493.24" y="490.7" font-size="6.3" text-anchor="end" fill="#222" stroke="#222" stroke-width="0.12" transform="rotate(-45 493.24 490.7)"><tspan font-style="italic">frs</tspan>/+</text>
<text x="505.76" y="490.7" font-size="6.3" text-anchor="end" fill="#222" stroke="#222" stroke-width="0.12" transform="rotate(-45 505.76 490.7)"><tspan font-style="italic">frs/frs</tspan></text>
<line x1="433.1" y1="505.7" x2="466.5" y2="505.7" stroke="#5d6068" stroke-width="1.5" />
<text x="450.5" y="514.9" font-size="6.5" text-anchor="middle" fill="#c73a5c" stroke="#c73a5c" stroke-width="0.12" textLength="32.4" lengthAdjust="spacingAndGlyphs" >+10uM Iron</text>
<line x1="470.8" y1="505.7" x2="503.9" y2="505.7" stroke="#5d6068" stroke-width="1.5" />
<text x="488.05" y="514.9" font-size="6.5" text-anchor="middle" fill="#6a5f58" stroke="#6a5f58" stroke-width="0.12" textLength="32.4" lengthAdjust="spacingAndGlyphs" >+15uM Iron</text>
<text x="0" y="0" font-size="8.8" text-anchor="middle" fill="#222" stroke="#222" stroke-width="0.22" textLength="68.4" lengthAdjust="spacingAndGlyphs" transform="translate(370.67 440.3) rotate(-90)">Percent cd41:GFP-Hi cells</text>
<text x="354" y="391.8" font-size="11.5" text-anchor="start" fill="#111" font-weight="bold" >I</text>
<line x1="46.5" y1="609.65" x2="165" y2="609.65" stroke="#d07a8c" stroke-width="1" stroke-dasharray="3.2 2.2"/>
<line x1="46.5" y1="623.26" x2="165" y2="623.26" stroke="#d07a8c" stroke-width="1" stroke-dasharray="3.2 2.2"/>
<rect x="51.25" y="616.61" width="8.3" height="20.89" fill="#485a69"/>
<rect x="63.75" y="617.24" width="8.3" height="20.26" fill="#485a69"/>
<rect x="76.25" y="604.58" width="8.3" height="32.92" fill="#485a69"/>
<rect x="88.75" y="619.78" width="8.3" height="17.72" fill="#8e9aa1"/>
<rect x="101.25" y="626.11" width="8.3" height="11.39" fill="#8e9aa1"/>
<rect x="113.75" y="629.27" width="8.3" height="8.23" fill="#8e9aa1"/>
<rect x="126.25" y="620.41" width="8.3" height="17.09" fill="#d9dcdf"/>
<rect x="138.75" y="615.35" width="8.3" height="22.15" fill="#d9dcdf"/>
<rect x="151.25" y="622.94" width="8.3" height="14.56" fill="#d9dcdf"/>
<line x1="46.5" y1="609.65" x2="165" y2="609.65" stroke="#d07a8c" stroke-width="0.9" stroke-dasharray="3.2 2.2" opacity="0.55"/>
<line x1="46.5" y1="623.26" x2="165" y2="623.26" stroke="#d07a8c" stroke-width="0.9" stroke-dasharray="3.2 2.2" opacity="0.55"/>
<line x1="55.4" y1="610.91" x2="55.4" y2="621.67" stroke="#2a2a2a" stroke-width="0.85" />
<line x1="53.2" y1="610.91" x2="57.6" y2="610.91" stroke="#2a2a2a" stroke-width="0.85" />
<line x1="53.2" y1="621.67" x2="57.6" y2="621.67" stroke="#2a2a2a" stroke-width="0.85" />
<line x1="67.9" y1="610.91" x2="67.9" y2="623.57" stroke="#2a2a2a" stroke-width="0.85" />
<line x1="65.7" y1="610.91" x2="70.1" y2="610.91" stroke="#2a2a2a" stroke-width="0.85" />
<line x1="65.7" y1="623.57" x2="70.1" y2="623.57" stroke="#2a2a2a" stroke-width="0.85" />
<line x1="80.4" y1="574.2" x2="80.4" y2="631.17" stroke="#2a2a2a" stroke-width="0.85" />
<line x1="78.2" y1="631.17" x2="82.6" y2="631.17" stroke="#2a2a2a" stroke-width="0.85" />
<line x1="92.9" y1="607.75" x2="92.9" y2="631.17" stroke="#2a2a2a" stroke-width="0.85" />
<line x1="90.7" y1="607.75" x2="95.1" y2="607.75" stroke="#2a2a2a" stroke-width="0.85" />
<line x1="90.7" y1="631.17" x2="95.1" y2="631.17" stroke="#2a2a2a" stroke-width="0.85" />
<line x1="105.4" y1="621.04" x2="105.4" y2="631.17" stroke="#2a2a2a" stroke-width="0.85" />
<line x1="103.2" y1="621.04" x2="107.6" y2="621.04" stroke="#2a2a2a" stroke-width="0.85" />
<line x1="103.2" y1="631.17" x2="107.6" y2="631.17" stroke="#2a2a2a" stroke-width="0.85" />
<line x1="117.9" y1="627.37" x2="117.9" y2="631.17" stroke="#2a2a2a" stroke-width="0.85" />
<line x1="115.7" y1="627.37" x2="120.1" y2="627.37" stroke="#2a2a2a" stroke-width="0.85" />
<line x1="115.7" y1="631.17" x2="120.1" y2="631.17" stroke="#2a2a2a" stroke-width="0.85" />
<line x1="130.4" y1="607.75" x2="130.4" y2="628" stroke="#666" stroke-width="0.85" />
<line x1="128.2" y1="607.75" x2="132.6" y2="607.75" stroke="#666" stroke-width="0.85" />
<line x1="128.2" y1="628" x2="132.6" y2="628" stroke="#666" stroke-width="0.85" />
<line x1="142.9" y1="604.58" x2="142.9" y2="624.84" stroke="#666" stroke-width="0.85" />
<line x1="140.7" y1="604.58" x2="145.1" y2="604.58" stroke="#666" stroke-width="0.85" />
<line x1="140.7" y1="624.84" x2="145.1" y2="624.84" stroke="#666" stroke-width="0.85" />
<line x1="78.1" y1="566.3" x2="82.7" y2="566.3" stroke="#1a1a1a" stroke-width="1" />
<circle cx="55.4" cy="607.12" r="1.61" fill="#8c1d36" stroke="#2a0a12" stroke-width="0.75"/>
<circle cx="55.4" cy="615.35" r="1.61" fill="#8c1d36" stroke="#2a0a12" stroke-width="0.75"/>
<circle cx="52.9" cy="621.04" r="1.66" fill="#fff" stroke="#2a2a2a" stroke-width="0.75"/>
<circle cx="57.9" cy="620.41" r="1.66" fill="#fff" stroke="#2a2a2a" stroke-width="0.75"/>
<circle cx="55.4" cy="623.57" r="1.61" fill="#8c1d36" stroke="#2a0a12" stroke-width="0.75"/>
<circle cx="67.9" cy="602.05" r="1.61" fill="#8c1d36" stroke="#2a0a12" stroke-width="0.75"/>
<circle cx="67.9" cy="605.85" r="1.61" fill="#8c1d36" stroke="#2a0a12" stroke-width="0.75"/>
<circle cx="67.9" cy="609.65" r="1.61" fill="#8c1d36" stroke="#2a0a12" stroke-width="0.75"/>
<circle cx="65.4" cy="615.35" r="1.66" fill="#fff" stroke="#2a2a2a" stroke-width="0.75"/>
<circle cx="70.4" cy="614.71" r="1.66" fill="#fff" stroke="#2a2a2a" stroke-width="0.75"/>
<circle cx="67.9" cy="618.51" r="1.66" fill="#fff" stroke="#2a2a2a" stroke-width="0.75"/>
<circle cx="65.4" cy="621.67" r="1.66" fill="#fff" stroke="#2a2a2a" stroke-width="0.75"/>
<circle cx="70.4" cy="622.31" r="1.66" fill="#fff" stroke="#2a2a2a" stroke-width="0.75"/>
<circle cx="67.9" cy="624.21" r="1.61" fill="#8c1d36" stroke="#2a0a12" stroke-width="0.75"/>
<circle cx="80.4" cy="562.5" r="1.61" fill="#8c1d36" stroke="#2a0a12" stroke-width="0.75"/>
<circle cx="80.4" cy="615.35" r="1.66" fill="#fff" stroke="#2a2a2a" stroke-width="0.75"/>
<circle cx="80.4" cy="619.78" r="1.66" fill="#fff" stroke="#2a2a2a" stroke-width="0.75"/>
<circle cx="80.4" cy="628.64" r="1.61" fill="#8c1d36" stroke="#2a0a12" stroke-width="0.75"/>
<circle cx="92.9" cy="602.05" r="1.61" fill="#8c1d36" stroke="#2a0a12" stroke-width="0.75"/>
<circle cx="92.9" cy="614.08" r="1.66" fill="#fff" stroke="#2a2a2a" stroke-width="0.75"/>
<circle cx="90.4" cy="623.57" r="1.61" fill="#8c1d36" stroke="#2a0a12" stroke-width="0.75"/>
<circle cx="95.4" cy="623.57" r="1.61" fill="#8c1d36" stroke="#2a0a12" stroke-width="0.75"/>
<circle cx="92.9" cy="632.44" r="1.61" fill="#8c1d36" stroke="#2a0a12" stroke-width="0.75"/>
<circle cx="105.4" cy="618.51" r="1.66" fill="#fff" stroke="#2a2a2a" stroke-width="0.75"/>
<circle cx="102.9" cy="622.94" r="1.61" fill="#8c1d36" stroke="#2a0a12" stroke-width="0.75"/>
<circle cx="107.9" cy="623.57" r="1.61" fill="#8c1d36" stroke="#2a0a12" stroke-width="0.75"/>
<circle cx="105.4" cy="627.37" r="1.61" fill="#8c1d36" stroke="#2a0a12" stroke-width="0.75"/>
<circle cx="102.9" cy="631.17" r="1.61" fill="#8c1d36" stroke="#2a0a12" stroke-width="0.75"/>
<circle cx="107.9" cy="631.17" r="1.61" fill="#8c1d36" stroke="#2a0a12" stroke-width="0.75"/>
<circle cx="115.9" cy="628" r="1.61" fill="#8c1d36" stroke="#2a0a12" stroke-width="0.75"/>
<circle cx="117.9" cy="627.37" r="1.61" fill="#8c1d36" stroke="#2a0a12" stroke-width="0.75"/>
<circle cx="119.9" cy="628.64" r="1.61" fill="#8c1d36" stroke="#2a0a12" stroke-width="0.75"/>
<circle cx="127.9" cy="606.48" r="1.61" fill="#8c1d36" stroke="#2a0a12" stroke-width="0.75"/>
<circle cx="132.9" cy="605.85" r="1.61" fill="#8c1d36" stroke="#2a0a12" stroke-width="0.75"/>
<circle cx="127.9" cy="619.78" r="1.66" fill="#fff" stroke="#2a2a2a" stroke-width="0.75"/>
<circle cx="132.9" cy="619.78" r="1.66" fill="#fff" stroke="#2a2a2a" stroke-width="0.75"/>
<circle cx="130.4" cy="621.67" r="1.66" fill="#fff" stroke="#2a2a2a" stroke-width="0.75"/>
<circle cx="130.4" cy="626.11" r="1.61" fill="#8c1d36" stroke="#2a0a12" stroke-width="0.75"/>
<circle cx="142.9" cy="598.89" r="1.61" fill="#8c1d36" stroke="#2a0a12" stroke-width="0.75"/>
<circle cx="140.4" cy="613.45" r="1.66" fill="#fff" stroke="#2a2a2a" stroke-width="0.75"/>
<circle cx="145.4" cy="612.18" r="1.66" fill="#fff" stroke="#2a2a2a" stroke-width="0.75"/>
<circle cx="142.9" cy="619.78" r="1.66" fill="#fff" stroke="#2a2a2a" stroke-width="0.75"/>
<circle cx="142.9" cy="626.11" r="1.61" fill="#8c1d36" stroke="#2a0a12" stroke-width="0.75"/>
<circle cx="152.9" cy="621.04" r="1.66" fill="#fff" stroke="#2a2a2a" stroke-width="0.75"/>
<circle cx="157.9" cy="622.31" r="1.66" fill="#fff" stroke="#2a2a2a" stroke-width="0.75"/>
<circle cx="153.4" cy="622.94" r="1.61" fill="#8c1d36" stroke="#2a0a12" stroke-width="0.75"/>
<line x1="46.5" y1="574.2" x2="46.5" y2="638" stroke="#1a1a1a" stroke-width="1.1" />
<line x1="46" y1="637.5" x2="162" y2="637.5" stroke="#1a1a1a" stroke-width="1.1" />
<line x1="43.7" y1="637.5" x2="46.5" y2="637.5" stroke="#1a1a1a" stroke-width="0.9" />
<text x="40" y="639.8" font-size="6.4" text-anchor="end" fill="#222" stroke="#222" stroke-width="0.12" >0.0</text>
<line x1="43.7" y1="624.84" x2="46.5" y2="624.84" stroke="#1a1a1a" stroke-width="0.9" />
<text x="40" y="627.14" font-size="6.4" text-anchor="end" fill="#222" stroke="#222" stroke-width="0.12" >0.2</text>
<line x1="43.7" y1="612.18" x2="46.5" y2="612.18" stroke="#1a1a1a" stroke-width="0.9" />
<text x="40" y="614.48" font-size="6.4" text-anchor="end" fill="#222" stroke="#222" stroke-width="0.12" >0.4</text>
<line x1="43.7" y1="599.52" x2="46.5" y2="599.52" stroke="#1a1a1a" stroke-width="0.9" />
<text x="40" y="601.82" font-size="6.4" text-anchor="end" fill="#222" stroke="#222" stroke-width="0.12" >0.6</text>
<line x1="43.7" y1="586.86" x2="46.5" y2="586.86" stroke="#1a1a1a" stroke-width="0.9" />
<text x="40" y="589.16" font-size="6.4" text-anchor="end" fill="#222" stroke="#222" stroke-width="0.12" >0.8</text>
<line x1="43.7" y1="574.2" x2="46.5" y2="574.2" stroke="#1a1a1a" stroke-width="0.9" />
<text x="40" y="576.5" font-size="6.4" text-anchor="end" fill="#222" stroke="#222" stroke-width="0.12" >1.0</text>
<line x1="46.5" y1="557" x2="46.5" y2="566.9" stroke="#1a1a1a" stroke-width="1.1" />
<line x1="43.7" y1="559.8" x2="46.5" y2="559.8" stroke="#1a1a1a" stroke-width="0.9" />
<line x1="43.7" y1="566.9" x2="48.7" y2="566.9" stroke="#1a1a1a" stroke-width="0.9" />
<line x1="43.7" y1="574.2" x2="48.7" y2="574.2" stroke="#1a1a1a" stroke-width="0.9" />
<text x="40" y="562.1" font-size="6.4" text-anchor="end" fill="#222" stroke="#222" stroke-width="0.12" >1.5</text>
<text x="40" y="569.2" font-size="6.4" text-anchor="end" fill="#222" stroke="#222" stroke-width="0.12" >1.0</text>
<line x1="55.4" y1="637.5" x2="55.4" y2="640.6" stroke="#1a1a1a" stroke-width="1" />
<line x1="67.9" y1="637.5" x2="67.9" y2="640.6" stroke="#1a1a1a" stroke-width="1" />
<line x1="80.4" y1="637.5" x2="80.4" y2="640.6" stroke="#1a1a1a" stroke-width="1" />
<line x1="92.9" y1="637.5" x2="92.9" y2="640.6" stroke="#1a1a1a" stroke-width="1" />
<line x1="105.4" y1="637.5" x2="105.4" y2="640.6" stroke="#1a1a1a" stroke-width="1" />
<line x1="117.9" y1="637.5" x2="117.9" y2="640.6" stroke="#1a1a1a" stroke-width="1" />
<line x1="130.4" y1="637.5" x2="130.4" y2="640.6" stroke="#1a1a1a" stroke-width="1" />
<line x1="142.9" y1="637.5" x2="142.9" y2="640.6" stroke="#1a1a1a" stroke-width="1" />
<line x1="155.4" y1="637.5" x2="155.4" y2="640.6" stroke="#1a1a1a" stroke-width="1" />
<text x="58" y="649.4" font-size="6.4" text-anchor="end" fill="#222" stroke="#222" stroke-width="0.12" transform="rotate(-45 58 649.4)">+/+</text>
<text x="70.5" y="649.4" font-size="6.4" text-anchor="end" fill="#222" stroke="#222" stroke-width="0.12" transform="rotate(-45 70.5 649.4)">Weh/+</text>
<text x="83" y="649.4" font-size="6.4" text-anchor="end" fill="#222" stroke="#222" stroke-width="0.12" transform="rotate(-45 83 649.4)">Weh/Weh</text>
<text x="95.5" y="649.4" font-size="6.4" text-anchor="end" fill="#222" stroke="#222" stroke-width="0.12" transform="rotate(-45 95.5 649.4)">+/+</text>
<text x="108" y="649.4" font-size="6.4" text-anchor="end" fill="#222" stroke="#222" stroke-width="0.12" transform="rotate(-45 108 649.4)">Weh/+</text>
<text x="120.5" y="649.4" font-size="6.4" text-anchor="end" fill="#222" stroke="#222" stroke-width="0.12" transform="rotate(-45 120.5 649.4)">Weh/Weh</text>
<text x="133" y="649.4" font-size="6.4" text-anchor="end" fill="#222" stroke="#222" stroke-width="0.12" transform="rotate(-45 133 649.4)">+/+</text>
<text x="145.5" y="649.4" font-size="6.4" text-anchor="end" fill="#222" stroke="#222" stroke-width="0.12" transform="rotate(-45 145.5 649.4)">Weh/+</text>
<text x="158" y="649.4" font-size="6.4" text-anchor="end" fill="#222" stroke="#222" stroke-width="0.12" transform="rotate(-45 158 649.4)">Weh/Weh</text>
<line x1="84.7" y1="673" x2="118.2" y2="673" stroke="#5d6068" stroke-width="1.5" />
<text x="102.15" y="681.3" font-size="6.5" text-anchor="middle" fill="#c73a5c" stroke="#c73a5c" stroke-width="0.12" textLength="32.4" lengthAdjust="spacingAndGlyphs" >+10uM Iron</text>
<line x1="122.9" y1="673" x2="155.8" y2="673" stroke="#5d6068" stroke-width="1.5" />
<text x="140.05" y="681.3" font-size="6.5" text-anchor="middle" fill="#6a5f58" stroke="#6a5f58" stroke-width="0.12" textLength="32.4" lengthAdjust="spacingAndGlyphs" >+15uM Iron</text>
<text x="0" y="0" font-size="8.8" text-anchor="middle" fill="#222" stroke="#222" stroke-width="0.22" textLength="65.3" lengthAdjust="spacingAndGlyphs" transform="translate(26.97 600.5) rotate(-90)">Percent cd41:GFP+ cells</text>
<text x="6.9" y="549.5" font-size="11.5" text-anchor="start" fill="#111" font-weight="bold" >J</text>
<line x1="220" y1="619.97" x2="338" y2="619.97" stroke="#d07a8c" stroke-width="1" stroke-dasharray="3.2 2.2"/>
<line x1="220" y1="629.52" x2="338" y2="629.52" stroke="#d07a8c" stroke-width="1" stroke-dasharray="3.2 2.2"/>
<rect x="224.25" y="624.84" width="8.3" height="12.66" fill="#485a69"/>
<rect x="236.77" y="621.67" width="8.3" height="15.83" fill="#485a69"/>
<rect x="249.29" y="609.01" width="8.3" height="28.49" fill="#485a69"/>
<rect x="261.81" y="624.84" width="8.3" height="12.66" fill="#8e9aa1"/>
<rect x="274.33" y="628" width="8.3" height="9.5" fill="#8e9aa1"/>
<rect x="286.85" y="629.9" width="8.3" height="7.6" fill="#8e9aa1"/>
<rect x="299.37" y="626.11" width="8.3" height="11.39" fill="#d9dcdf"/>
<rect x="311.89" y="626.74" width="8.3" height="10.76" fill="#d9dcdf"/>
<rect x="324.41" y="628" width="8.3" height="9.5" fill="#d9dcdf"/>
<line x1="220" y1="619.97" x2="338" y2="619.97" stroke="#d07a8c" stroke-width="0.9" stroke-dasharray="3.2 2.2" opacity="0.55"/>
<line x1="220" y1="629.52" x2="338" y2="629.52" stroke="#d07a8c" stroke-width="0.9" stroke-dasharray="3.2 2.2" opacity="0.55"/>
<line x1="228.4" y1="621.04" x2="228.4" y2="628.64" stroke="#2a2a2a" stroke-width="0.85" />
<line x1="226.2" y1="621.04" x2="230.6" y2="621.04" stroke="#2a2a2a" stroke-width="0.85" />
<line x1="226.2" y1="628.64" x2="230.6" y2="628.64" stroke="#2a2a2a" stroke-width="0.85" />
<line x1="240.92" y1="612.81" x2="240.92" y2="629.9" stroke="#2a2a2a" stroke-width="0.85" />
<line x1="238.72" y1="612.81" x2="243.12" y2="612.81" stroke="#2a2a2a" stroke-width="0.85" />
<line x1="238.72" y1="629.9" x2="243.12" y2="629.9" stroke="#2a2a2a" stroke-width="0.85" />
<line x1="253.44" y1="574.2" x2="253.44" y2="637.5" stroke="#2a2a2a" stroke-width="0.85" />
<line x1="251.24" y1="574.2" x2="255.64" y2="574.2" stroke="#2a2a2a" stroke-width="0.85" />
<line x1="251.24" y1="637.5" x2="255.64" y2="637.5" stroke="#2a2a2a" stroke-width="0.85" />
<line x1="265.96" y1="614.08" x2="265.96" y2="634.34" stroke="#2a2a2a" stroke-width="0.85" />
<line x1="263.76" y1="614.08" x2="268.16" y2="614.08" stroke="#2a2a2a" stroke-width="0.85" />
<line x1="263.76" y1="634.34" x2="268.16" y2="634.34" stroke="#2a2a2a" stroke-width="0.85" />
<line x1="278.48" y1="624.84" x2="278.48" y2="631.17" stroke="#2a2a2a" stroke-width="0.85" />
<line x1="276.28" y1="624.84" x2="280.68" y2="624.84" stroke="#2a2a2a" stroke-width="0.85" />
<line x1="276.28" y1="631.17" x2="280.68" y2="631.17" stroke="#2a2a2a" stroke-width="0.85" />
<line x1="291" y1="628.64" x2="291" y2="631.17" stroke="#2a2a2a" stroke-width="0.85" />
<line x1="288.8" y1="628.64" x2="293.2" y2="628.64" stroke="#2a2a2a" stroke-width="0.85" />
<line x1="288.8" y1="631.17" x2="293.2" y2="631.17" stroke="#2a2a2a" stroke-width="0.85" />
<line x1="303.52" y1="616.61" x2="303.52" y2="631.17" stroke="#666" stroke-width="0.85" />
<line x1="301.32" y1="616.61" x2="305.72" y2="616.61" stroke="#666" stroke-width="0.85" />
<line x1="301.32" y1="631.17" x2="305.72" y2="631.17" stroke="#666" stroke-width="0.85" />
<line x1="316.04" y1="610.91" x2="316.04" y2="631.17" stroke="#666" stroke-width="0.85" />
<line x1="313.84" y1="610.91" x2="318.24" y2="610.91" stroke="#666" stroke-width="0.85" />
<line x1="313.84" y1="631.17" x2="318.24" y2="631.17" stroke="#666" stroke-width="0.85" />
<line x1="328.56" y1="624.84" x2="328.56" y2="629.9" stroke="#666" stroke-width="0.85" />
<line x1="326.36" y1="624.84" x2="330.76" y2="624.84" stroke="#666" stroke-width="0.85" />
<line x1="326.36" y1="629.9" x2="330.76" y2="629.9" stroke="#666" stroke-width="0.85" />
<circle cx="226.4" cy="617.88" r="1.61" fill="#8c1d36" stroke="#2a0a12" stroke-width="0.75"/>
<circle cx="230.4" cy="619.14" r="1.61" fill="#8c1d36" stroke="#2a0a12" stroke-width="0.75"/>
<circle cx="225.9" cy="626.74" r="1.66" fill="#fff" stroke="#2a2a2a" stroke-width="0.75"/>
<circle cx="230.9" cy="626.74" r="1.66" fill="#fff" stroke="#2a2a2a" stroke-width="0.75"/>
<circle cx="228.4" cy="628" r="1.61" fill="#8c1d36" stroke="#2a0a12" stroke-width="0.75"/>
<circle cx="241.92" cy="605.85" r="1.61" fill="#8c1d36" stroke="#2a0a12" stroke-width="0.75"/>
<circle cx="240.92" cy="608.38" r="1.61" fill="#8c1d36" stroke="#2a0a12" stroke-width="0.75"/>
<circle cx="240.92" cy="618.51" r="1.61" fill="#8c1d36" stroke="#2a0a12" stroke-width="0.75"/>
<circle cx="238.42" cy="623.57" r="1.66" fill="#fff" stroke="#2a2a2a" stroke-width="0.75"/>
<circle cx="243.42" cy="623.57" r="1.66" fill="#fff" stroke="#2a2a2a" stroke-width="0.75"/>
<circle cx="240.92" cy="627.37" r="1.61" fill="#8c1d36" stroke="#2a0a12" stroke-width="0.75"/>
<circle cx="240.92" cy="631.17" r="1.61" fill="#8c1d36" stroke="#2a0a12" stroke-width="0.75"/>
<circle cx="253.44" cy="563.2" r="1.61" fill="#8c1d36" stroke="#2a0a12" stroke-width="0.75"/>
<circle cx="253.44" cy="621.04" r="1.66" fill="#fff" stroke="#2a2a2a" stroke-width="0.75"/>
<circle cx="253.44" cy="634.34" r="1.61" fill="#8c1d36" stroke="#2a0a12" stroke-width="0.75"/>
<circle cx="265.96" cy="607.12" r="1.61" fill="#8c1d36" stroke="#2a0a12" stroke-width="0.75"/>
<circle cx="263.46" cy="624.84" r="1.66" fill="#fff" stroke="#2a2a2a" stroke-width="0.75"/>
<circle cx="268.46" cy="624.84" r="1.66" fill="#fff" stroke="#2a2a2a" stroke-width="0.75"/>
<circle cx="265.96" cy="633.7" r="1.61" fill="#8c1d36" stroke="#2a0a12" stroke-width="0.75"/>
<circle cx="278.48" cy="621.67" r="1.66" fill="#fff" stroke="#2a2a2a" stroke-width="0.75"/>
<circle cx="275.98" cy="626.11" r="1.66" fill="#fff" stroke="#2a2a2a" stroke-width="0.75"/>
<circle cx="280.98" cy="626.11" r="1.66" fill="#fff" stroke="#2a2a2a" stroke-width="0.75"/>
<circle cx="278.48" cy="629.9" r="1.61" fill="#8c1d36" stroke="#2a0a12" stroke-width="0.75"/>
<circle cx="275.98" cy="633.07" r="1.61" fill="#8c1d36" stroke="#2a0a12" stroke-width="0.75"/>
<circle cx="280.98" cy="633.07" r="1.61" fill="#8c1d36" stroke="#2a0a12" stroke-width="0.75"/>
<circle cx="289" cy="626.74" r="1.66" fill="#fff" stroke="#2a2a2a" stroke-width="0.75"/>
<circle cx="291" cy="629.9" r="1.61" fill="#8c1d36" stroke="#2a0a12" stroke-width="0.75"/>
<circle cx="293" cy="628.64" r="1.61" fill="#8c1d36" stroke="#2a0a12" stroke-width="0.75"/>
<circle cx="303.52" cy="609.65" r="1.61" fill="#8c1d36" stroke="#2a0a12" stroke-width="0.75"/>
<circle cx="303.52" cy="615.98" r="1.61" fill="#8c1d36" stroke="#2a0a12" stroke-width="0.75"/>
<circle cx="303.52" cy="617.88" r="1.61" fill="#8c1d36" stroke="#2a0a12" stroke-width="0.75"/>
<circle cx="301.02" cy="624.84" r="1.66" fill="#fff" stroke="#2a2a2a" stroke-width="0.75"/>
<circle cx="306.02" cy="624.84" r="1.66" fill="#fff" stroke="#2a2a2a" stroke-width="0.75"/>
<circle cx="301.02" cy="627.37" r="1.66" fill="#fff" stroke="#2a2a2a" stroke-width="0.75"/>
<circle cx="306.02" cy="627.37" r="1.66" fill="#fff" stroke="#2a2a2a" stroke-width="0.75"/>
<circle cx="316.04" cy="605.22" r="1.61" fill="#8c1d36" stroke="#2a0a12" stroke-width="0.75"/>
<circle cx="316.04" cy="617.88" r="1.61" fill="#8c1d36" stroke="#2a0a12" stroke-width="0.75"/>
<circle cx="313.54" cy="624.84" r="1.66" fill="#fff" stroke="#2a2a2a" stroke-width="0.75"/>
<circle cx="318.54" cy="624.84" r="1.66" fill="#fff" stroke="#2a2a2a" stroke-width="0.75"/>
<circle cx="316.04" cy="632.44" r="1.61" fill="#8c1d36" stroke="#2a0a12" stroke-width="0.75"/>
<circle cx="326.06" cy="624.84" r="1.66" fill="#fff" stroke="#2a2a2a" stroke-width="0.75"/>
<circle cx="331.06" cy="622.94" r="1.66" fill="#fff" stroke="#2a2a2a" stroke-width="0.75"/>
<circle cx="326.06" cy="627.37" r="1.66" fill="#fff" stroke="#2a2a2a" stroke-width="0.75"/>
<circle cx="331.06" cy="627.37" r="1.66" fill="#fff" stroke="#2a2a2a" stroke-width="0.75"/>
<line x1="220" y1="574.2" x2="220" y2="638" stroke="#1a1a1a" stroke-width="1.1" />
<line x1="219.5" y1="637.5" x2="335" y2="637.5" stroke="#1a1a1a" stroke-width="1.1" />
<line x1="217.2" y1="637.5" x2="220" y2="637.5" stroke="#1a1a1a" stroke-width="0.9" />
<text x="213.5" y="639.8" font-size="6.4" text-anchor="end" fill="#222" stroke="#222" stroke-width="0.12" >0.0</text>
<line x1="217.2" y1="624.84" x2="220" y2="624.84" stroke="#1a1a1a" stroke-width="0.9" />
<text x="213.5" y="627.14" font-size="6.4" text-anchor="end" fill="#222" stroke="#222" stroke-width="0.12" >0.2</text>
<line x1="217.2" y1="612.18" x2="220" y2="612.18" stroke="#1a1a1a" stroke-width="0.9" />
<text x="213.5" y="614.48" font-size="6.4" text-anchor="end" fill="#222" stroke="#222" stroke-width="0.12" >0.4</text>
<line x1="217.2" y1="599.52" x2="220" y2="599.52" stroke="#1a1a1a" stroke-width="0.9" />
<text x="213.5" y="601.82" font-size="6.4" text-anchor="end" fill="#222" stroke="#222" stroke-width="0.12" >0.6</text>
<line x1="217.2" y1="586.86" x2="220" y2="586.86" stroke="#1a1a1a" stroke-width="0.9" />
<text x="213.5" y="589.16" font-size="6.4" text-anchor="end" fill="#222" stroke="#222" stroke-width="0.12" >0.8</text>
<line x1="217.2" y1="574.2" x2="220" y2="574.2" stroke="#1a1a1a" stroke-width="0.9" />
<text x="213.5" y="576.5" font-size="6.4" text-anchor="end" fill="#222" stroke="#222" stroke-width="0.12" >1.0</text>
<line x1="220" y1="557" x2="220" y2="566.9" stroke="#1a1a1a" stroke-width="1.1" />
<line x1="217.2" y1="559.8" x2="220" y2="559.8" stroke="#1a1a1a" stroke-width="0.9" />
<line x1="217.2" y1="566.9" x2="222.2" y2="566.9" stroke="#1a1a1a" stroke-width="0.9" />
<line x1="217.2" y1="574.2" x2="222.2" y2="574.2" stroke="#1a1a1a" stroke-width="0.9" />
<text x="213.5" y="562.1" font-size="6.4" text-anchor="end" fill="#222" stroke="#222" stroke-width="0.12" >1.5</text>
<text x="213.5" y="569.2" font-size="6.4" text-anchor="end" fill="#222" stroke="#222" stroke-width="0.12" >1.0</text>
<line x1="228.4" y1="637.5" x2="228.4" y2="640.6" stroke="#1a1a1a" stroke-width="1" />
<line x1="240.92" y1="637.5" x2="240.92" y2="640.6" stroke="#1a1a1a" stroke-width="1" />
<line x1="253.44" y1="637.5" x2="253.44" y2="640.6" stroke="#1a1a1a" stroke-width="1" />
<line x1="265.96" y1="637.5" x2="265.96" y2="640.6" stroke="#1a1a1a" stroke-width="1" />
<line x1="278.48" y1="637.5" x2="278.48" y2="640.6" stroke="#1a1a1a" stroke-width="1" />
<line x1="291" y1="637.5" x2="291" y2="640.6" stroke="#1a1a1a" stroke-width="1" />
<line x1="303.52" y1="637.5" x2="303.52" y2="640.6" stroke="#1a1a1a" stroke-width="1" />
<line x1="316.04" y1="637.5" x2="316.04" y2="640.6" stroke="#1a1a1a" stroke-width="1" />
<line x1="328.56" y1="637.5" x2="328.56" y2="640.6" stroke="#1a1a1a" stroke-width="1" />
<text x="231" y="649.4" font-size="6.4" text-anchor="end" fill="#222" stroke="#222" stroke-width="0.12" transform="rotate(-45 231 649.4)">+/+</text>
<text x="243.52" y="649.4" font-size="6.4" text-anchor="end" fill="#222" stroke="#222" stroke-width="0.12" transform="rotate(-45 243.52 649.4)"><tspan font-style="italic">weh</tspan>/+</text>
<text x="256.04" y="649.4" font-size="6.4" text-anchor="end" fill="#222" stroke="#222" stroke-width="0.12" transform="rotate(-45 256.04 649.4)"><tspan font-style="italic">weh/weh</tspan></text>
<text x="268.56" y="649.4" font-size="6.4" text-anchor="end" fill="#222" stroke="#222" stroke-width="0.12" transform="rotate(-45 268.56 649.4)">+/+</text>
<text x="281.08" y="649.4" font-size="6.4" text-anchor="end" fill="#222" stroke="#222" stroke-width="0.12" transform="rotate(-45 281.08 649.4)"><tspan font-style="italic">weh</tspan>/+</text>
<text x="293.6" y="649.4" font-size="6.4" text-anchor="end" fill="#222" stroke="#222" stroke-width="0.12" transform="rotate(-45 293.6 649.4)"><tspan font-style="italic">weh/weh</tspan></text>
<text x="306.12" y="649.4" font-size="6.4" text-anchor="end" fill="#222" stroke="#222" stroke-width="0.12" transform="rotate(-45 306.12 649.4)">+/+</text>
<text x="318.64" y="649.4" font-size="6.4" text-anchor="end" fill="#222" stroke="#222" stroke-width="0.12" transform="rotate(-45 318.64 649.4)"><tspan font-style="italic">weh</tspan>/+</text>
<text x="331.16" y="649.4" font-size="6.4" text-anchor="end" fill="#222" stroke="#222" stroke-width="0.12" transform="rotate(-45 331.16 649.4)"><tspan font-style="italic">weh/weh</tspan></text>
<line x1="257.3" y1="669.7" x2="290.8" y2="669.7" stroke="#5d6068" stroke-width="1.5" />
<text x="274.75" y="676.7" font-size="6.5" text-anchor="middle" fill="#c73a5c" stroke="#c73a5c" stroke-width="0.12" textLength="32.4" lengthAdjust="spacingAndGlyphs" >+10uM Iron</text>
<line x1="295.3" y1="669.7" x2="328.2" y2="669.7" stroke="#5d6068" stroke-width="1.5" />
<text x="312.45" y="676.7" font-size="6.5" text-anchor="middle" fill="#6a5f58" stroke="#6a5f58" stroke-width="0.12" textLength="32.4" lengthAdjust="spacingAndGlyphs" >+15uM Iron</text>
<text x="0" y="0" font-size="8.8" text-anchor="middle" fill="#222" stroke="#222" stroke-width="0.22" textLength="71" lengthAdjust="spacingAndGlyphs" transform="translate(199.97 597.5) rotate(-90)">Percent cd41:GFP-Lo cells</text>
<text x="181.2" y="550.2" font-size="11.5" text-anchor="start" fill="#111" font-weight="bold" >K</text>
<line x1="395" y1="620.61" x2="515.5" y2="620.61" stroke="#d07a8c" stroke-width="1" stroke-dasharray="3.2 2.2"/>
<line x1="398.8" y1="565.8" x2="513" y2="565.8" stroke="#d07a8c" stroke-width="1" stroke-dasharray="3.2 2.2"/>
<rect x="399.25" y="595.57" width="8.3" height="42.43" fill="#485a69"/>
<rect x="411.75" y="613.76" width="8.3" height="24.24" fill="#485a69"/>
<rect x="424.25" y="618.86" width="8.3" height="19.14" fill="#485a69"/>
<rect x="436.75" y="619.82" width="8.3" height="18.18" fill="#8e9aa1"/>
<rect x="449.25" y="626.84" width="8.3" height="11.16" fill="#8e9aa1"/>
<rect x="461.75" y="621.09" width="8.3" height="16.91" fill="#8e9aa1"/>
<rect x="474.25" y="614.71" width="8.3" height="23.29" fill="#d9dcdf"/>
<rect x="486.75" y="608.65" width="8.3" height="29.35" fill="#d9dcdf"/>
<rect x="499.25" y="622.69" width="8.3" height="15.31" fill="#d9dcdf"/>
<line x1="395" y1="620.61" x2="515.5" y2="620.61" stroke="#d07a8c" stroke-width="0.9" stroke-dasharray="3.2 2.2" opacity="0.55"/>
<line x1="403.4" y1="574.2" x2="403.4" y2="609.29" stroke="#2a2a2a" stroke-width="0.85" />
<line x1="401.2" y1="609.29" x2="405.6" y2="609.29" stroke="#2a2a2a" stroke-width="0.85" />
<line x1="415.9" y1="609.29" x2="415.9" y2="618.86" stroke="#2a2a2a" stroke-width="0.85" />
<line x1="413.7" y1="609.29" x2="418.1" y2="609.29" stroke="#2a2a2a" stroke-width="0.85" />
<line x1="413.7" y1="618.86" x2="418.1" y2="618.86" stroke="#2a2a2a" stroke-width="0.85" />
<line x1="428.4" y1="612.48" x2="428.4" y2="625.24" stroke="#2a2a2a" stroke-width="0.85" />
<line x1="426.2" y1="612.48" x2="430.6" y2="612.48" stroke="#2a2a2a" stroke-width="0.85" />
<line x1="426.2" y1="625.24" x2="430.6" y2="625.24" stroke="#2a2a2a" stroke-width="0.85" />
<line x1="440.9" y1="600.36" x2="440.9" y2="634.81" stroke="#2a2a2a" stroke-width="0.85" />
<line x1="438.7" y1="600.36" x2="443.1" y2="600.36" stroke="#2a2a2a" stroke-width="0.85" />
<line x1="438.7" y1="634.81" x2="443.1" y2="634.81" stroke="#2a2a2a" stroke-width="0.85" />
<line x1="453.4" y1="618.86" x2="453.4" y2="634.81" stroke="#2a2a2a" stroke-width="0.85" />
<line x1="451.2" y1="618.86" x2="455.6" y2="618.86" stroke="#2a2a2a" stroke-width="0.85" />
<line x1="451.2" y1="634.81" x2="455.6" y2="634.81" stroke="#2a2a2a" stroke-width="0.85" />
<line x1="465.9" y1="620.14" x2="465.9" y2="622.05" stroke="#2a2a2a" stroke-width="0.85" />
<line x1="463.7" y1="620.14" x2="468.1" y2="620.14" stroke="#2a2a2a" stroke-width="0.85" />
<line x1="463.7" y1="622.05" x2="468.1" y2="622.05" stroke="#2a2a2a" stroke-width="0.85" />
<line x1="478.4" y1="597.17" x2="478.4" y2="628.43" stroke="#666" stroke-width="0.85" />
<line x1="476.2" y1="597.17" x2="480.6" y2="597.17" stroke="#666" stroke-width="0.85" />
<line x1="476.2" y1="628.43" x2="480.6" y2="628.43" stroke="#666" stroke-width="0.85" />
<line x1="490.9" y1="591.75" x2="490.9" y2="620.46" stroke="#666" stroke-width="0.85" />
<line x1="488.7" y1="591.75" x2="493.1" y2="591.75" stroke="#666" stroke-width="0.85" />
<line x1="488.7" y1="620.46" x2="493.1" y2="620.46" stroke="#666" stroke-width="0.85" />
<line x1="503.4" y1="610.88" x2="503.4" y2="625.24" stroke="#666" stroke-width="0.85" />
<line x1="501.2" y1="610.88" x2="505.6" y2="610.88" stroke="#666" stroke-width="0.85" />
<line x1="501.2" y1="625.24" x2="505.6" y2="625.24" stroke="#666" stroke-width="0.85" />
<line x1="401.1" y1="565.9" x2="405.7" y2="565.9" stroke="#1a1a1a" stroke-width="1" />
<circle cx="403.4" cy="561.7" r="1.61" fill="#8c1d36" stroke="#2a0a12" stroke-width="0.75"/>
<circle cx="403.4" cy="583.77" r="1.66" fill="#fff" stroke="#2a2a2a" stroke-width="0.75"/>
<circle cx="403.4" cy="602.91" r="1.66" fill="#fff" stroke="#2a2a2a" stroke-width="0.75"/>
<circle cx="403.4" cy="609.29" r="1.66" fill="#fff" stroke="#2a2a2a" stroke-width="0.75"/>
<circle cx="403.4" cy="617.26" r="1.66" fill="#fff" stroke="#2a2a2a" stroke-width="0.75"/>
<circle cx="415.9" cy="596.53" r="1.66" fill="#fff" stroke="#2a2a2a" stroke-width="0.75"/>
<circle cx="413.4" cy="606.1" r="1.66" fill="#fff" stroke="#2a2a2a" stroke-width="0.75"/>
<circle cx="418.4" cy="606.74" r="1.66" fill="#fff" stroke="#2a2a2a" stroke-width="0.75"/>
<circle cx="415.9" cy="609.29" r="1.66" fill="#fff" stroke="#2a2a2a" stroke-width="0.75"/>
<circle cx="413.4" cy="611.84" r="1.66" fill="#fff" stroke="#2a2a2a" stroke-width="0.75"/>
<circle cx="418.4" cy="612.48" r="1.66" fill="#fff" stroke="#2a2a2a" stroke-width="0.75"/>
<circle cx="415.9" cy="617.26" r="1.66" fill="#fff" stroke="#2a2a2a" stroke-width="0.75"/>
<circle cx="413.9" cy="622.05" r="1.61" fill="#8c1d36" stroke="#2a0a12" stroke-width="0.75"/>
<circle cx="417.9" cy="623.64" r="1.61" fill="#8c1d36" stroke="#2a0a12" stroke-width="0.75"/>
<circle cx="428.4" cy="602.91" r="1.66" fill="#fff" stroke="#2a2a2a" stroke-width="0.75"/>
<circle cx="428.4" cy="614.08" r="1.66" fill="#fff" stroke="#2a2a2a" stroke-width="0.75"/>
<circle cx="428.4" cy="623.64" r="1.61" fill="#8c1d36" stroke="#2a0a12" stroke-width="0.75"/>
<circle cx="428.4" cy="626.84" r="1.61" fill="#8c1d36" stroke="#2a0a12" stroke-width="0.75"/>
<circle cx="440.9" cy="590.15" r="1.66" fill="#fff" stroke="#2a2a2a" stroke-width="0.75"/>
<circle cx="440.9" cy="609.29" r="1.66" fill="#fff" stroke="#2a2a2a" stroke-width="0.75"/>
<circle cx="438.4" cy="628.43" r="1.61" fill="#8c1d36" stroke="#2a0a12" stroke-width="0.75"/>
<circle cx="443.4" cy="628.43" r="1.61" fill="#8c1d36" stroke="#2a0a12" stroke-width="0.75"/>
<circle cx="440.9" cy="634.81" r="1.61" fill="#8c1d36" stroke="#2a0a12" stroke-width="0.75"/>
<circle cx="453.4" cy="610.88" r="1.66" fill="#fff" stroke="#2a2a2a" stroke-width="0.75"/>
<circle cx="453.4" cy="618.86" r="1.66" fill="#fff" stroke="#2a2a2a" stroke-width="0.75"/>
<circle cx="453.4" cy="622.69" r="1.61" fill="#8c1d36" stroke="#2a0a12" stroke-width="0.75"/>
<circle cx="450.9" cy="626.84" r="1.61" fill="#8c1d36" stroke="#2a0a12" stroke-width="0.75"/>
<circle cx="455.9" cy="628.43" r="1.61" fill="#8c1d36" stroke="#2a0a12" stroke-width="0.75"/>
<circle cx="453.4" cy="631.62" r="1.61" fill="#8c1d36" stroke="#2a0a12" stroke-width="0.75"/>
<circle cx="451.9" cy="637.36" r="1.61" fill="#8c1d36" stroke="#2a0a12" stroke-width="0.75"/>
<circle cx="454.9" cy="637.36" r="1.61" fill="#8c1d36" stroke="#2a0a12" stroke-width="0.75"/>
<circle cx="463.4" cy="620.14" r="1.66" fill="#fff" stroke="#2a2a2a" stroke-width="0.75"/>
<circle cx="468.4" cy="620.14" r="1.66" fill="#fff" stroke="#2a2a2a" stroke-width="0.75"/>
<circle cx="465.9" cy="625.24" r="1.61" fill="#8c1d36" stroke="#2a0a12" stroke-width="0.75"/>
<circle cx="478.4" cy="583.77" r="1.66" fill="#fff" stroke="#2a2a2a" stroke-width="0.75"/>
<circle cx="478.4" cy="606.1" r="1.66" fill="#fff" stroke="#2a2a2a" stroke-width="0.75"/>
<circle cx="478.4" cy="612.48" r="1.66" fill="#fff" stroke="#2a2a2a" stroke-width="0.75"/>
<circle cx="475.9" cy="622.69" r="1.61" fill="#8c1d36" stroke="#2a0a12" stroke-width="0.75"/>
<circle cx="480.9" cy="623.33" r="1.61" fill="#8c1d36" stroke="#2a0a12" stroke-width="0.75"/>
<circle cx="478.4" cy="631.62" r="1.61" fill="#8c1d36" stroke="#2a0a12" stroke-width="0.75"/>
<circle cx="490.9" cy="580.58" r="1.66" fill="#fff" stroke="#2a2a2a" stroke-width="0.75"/>
<circle cx="488.4" cy="606.1" r="1.66" fill="#fff" stroke="#2a2a2a" stroke-width="0.75"/>
<circle cx="493.4" cy="606.1" r="1.66" fill="#fff" stroke="#2a2a2a" stroke-width="0.75"/>
<circle cx="488.4" cy="612.48" r="1.66" fill="#fff" stroke="#2a2a2a" stroke-width="0.75"/>
<circle cx="493.4" cy="612.48" r="1.66" fill="#fff" stroke="#2a2a2a" stroke-width="0.75"/>
<circle cx="490.9" cy="617.26" r="1.66" fill="#fff" stroke="#2a2a2a" stroke-width="0.75"/>
<circle cx="503.4" cy="606.1" r="1.66" fill="#fff" stroke="#2a2a2a" stroke-width="0.75"/>
<circle cx="500.9" cy="622.69" r="1.61" fill="#8c1d36" stroke="#2a0a12" stroke-width="0.75"/>
<circle cx="503.4" cy="622.69" r="1.61" fill="#8c1d36" stroke="#2a0a12" stroke-width="0.75"/>
<circle cx="505.9" cy="622.69" r="1.61" fill="#8c1d36" stroke="#2a0a12" stroke-width="0.75"/>
<line x1="395" y1="574.2" x2="395" y2="638.5" stroke="#1a1a1a" stroke-width="1.1" />
<line x1="394.5" y1="638" x2="512.5" y2="638" stroke="#1a1a1a" stroke-width="1.1" />
<line x1="392.2" y1="638" x2="395" y2="638" stroke="#1a1a1a" stroke-width="0.9" />
<text x="388.5" y="640.3" font-size="6.4" text-anchor="end" fill="#222" stroke="#222" stroke-width="0.12" >0.00</text>
<line x1="392.2" y1="622.05" x2="395" y2="622.05" stroke="#1a1a1a" stroke-width="0.9" />
<text x="388.5" y="624.35" font-size="6.4" text-anchor="end" fill="#222" stroke="#222" stroke-width="0.12" >0.05</text>
<line x1="392.2" y1="606.1" x2="395" y2="606.1" stroke="#1a1a1a" stroke-width="0.9" />
<text x="388.5" y="608.4" font-size="6.4" text-anchor="end" fill="#222" stroke="#222" stroke-width="0.12" >0.10</text>
<line x1="392.2" y1="590.15" x2="395" y2="590.15" stroke="#1a1a1a" stroke-width="0.9" />
<text x="388.5" y="592.45" font-size="6.4" text-anchor="end" fill="#222" stroke="#222" stroke-width="0.12" >0.15</text>
<line x1="392.2" y1="574.2" x2="395" y2="574.2" stroke="#1a1a1a" stroke-width="0.9" />
<text x="388.5" y="576.5" font-size="6.4" text-anchor="end" fill="#222" stroke="#222" stroke-width="0.12" >0.20</text>
<line x1="395" y1="557.5" x2="395" y2="566.8" stroke="#1a1a1a" stroke-width="1.1" />
<line x1="392.2" y1="560.3" x2="395" y2="560.3" stroke="#1a1a1a" stroke-width="0.9" />
<line x1="392.2" y1="566.8" x2="397.2" y2="566.8" stroke="#1a1a1a" stroke-width="0.9" />
<line x1="392.2" y1="574.2" x2="397.2" y2="574.2" stroke="#1a1a1a" stroke-width="0.9" />
<text x="388.5" y="562.6" font-size="6.4" text-anchor="end" fill="#222" stroke="#222" stroke-width="0.12" >0.25</text>
<text x="388.5" y="569.1" font-size="6.4" text-anchor="end" fill="#222" stroke="#222" stroke-width="0.12" >0.20</text>
<line x1="403.4" y1="638" x2="403.4" y2="641.1" stroke="#1a1a1a" stroke-width="1" />
<line x1="415.9" y1="638" x2="415.9" y2="641.1" stroke="#1a1a1a" stroke-width="1" />
<line x1="428.4" y1="638" x2="428.4" y2="641.1" stroke="#1a1a1a" stroke-width="1" />
<line x1="440.9" y1="638" x2="440.9" y2="641.1" stroke="#1a1a1a" stroke-width="1" />
<line x1="453.4" y1="638" x2="453.4" y2="641.1" stroke="#1a1a1a" stroke-width="1" />
<line x1="465.9" y1="638" x2="465.9" y2="641.1" stroke="#1a1a1a" stroke-width="1" />
<line x1="478.4" y1="638" x2="478.4" y2="641.1" stroke="#1a1a1a" stroke-width="1" />
<line x1="490.9" y1="638" x2="490.9" y2="641.1" stroke="#1a1a1a" stroke-width="1" />
<line x1="503.4" y1="638" x2="503.4" y2="641.1" stroke="#1a1a1a" stroke-width="1" />
<text x="406" y="649.9" font-size="6.4" text-anchor="end" fill="#222" stroke="#222" stroke-width="0.12" transform="rotate(-45 406 649.9)">+/+</text>
<text x="418.5" y="649.9" font-size="6.4" text-anchor="end" fill="#222" stroke="#222" stroke-width="0.12" transform="rotate(-45 418.5 649.9)"><tspan font-style="italic">weh</tspan>/+</text>
<text x="431" y="649.9" font-size="6.4" text-anchor="end" fill="#222" stroke="#222" stroke-width="0.12" transform="rotate(-45 431 649.9)"><tspan font-style="italic">weh/weh</tspan></text>
<text x="443.5" y="649.9" font-size="6.4" text-anchor="end" fill="#222" stroke="#222" stroke-width="0.12" transform="rotate(-45 443.5 649.9)">+/+</text>
<text x="456" y="649.9" font-size="6.4" text-anchor="end" fill="#222" stroke="#222" stroke-width="0.12" transform="rotate(-45 456 649.9)"><tspan font-style="italic">weh</tspan>/+</text>
<text x="468.5" y="649.9" font-size="6.4" text-anchor="end" fill="#222" stroke="#222" stroke-width="0.12" transform="rotate(-45 468.5 649.9)"><tspan font-style="italic">weh/weh</tspan></text>
<text x="481" y="649.9" font-size="6.4" text-anchor="end" fill="#222" stroke="#222" stroke-width="0.12" transform="rotate(-45 481 649.9)">+/+</text>
<text x="493.5" y="649.9" font-size="6.4" text-anchor="end" fill="#222" stroke="#222" stroke-width="0.12" transform="rotate(-45 493.5 649.9)"><tspan font-style="italic">weh</tspan>/+</text>
<text x="506" y="649.9" font-size="6.4" text-anchor="end" fill="#222" stroke="#222" stroke-width="0.12" transform="rotate(-45 506 649.9)"><tspan font-style="italic">weh/weh</tspan></text>
<line x1="431.9" y1="669.9" x2="465.7" y2="669.9" stroke="#5d6068" stroke-width="1.5" />
<text x="449.5" y="676.9" font-size="6.5" text-anchor="middle" fill="#c73a5c" stroke="#c73a5c" stroke-width="0.12" textLength="32.4" lengthAdjust="spacingAndGlyphs" >+10uM Iron</text>
<line x1="470.3" y1="669.9" x2="503.2" y2="669.9" stroke="#5d6068" stroke-width="1.5" />
<text x="487.45" y="676.9" font-size="6.5" text-anchor="middle" fill="#6a5f58" stroke="#6a5f58" stroke-width="0.12" textLength="32.4" lengthAdjust="spacingAndGlyphs" >+15uM Iron</text>
<text x="0" y="0" font-size="8.8" text-anchor="middle" fill="#222" stroke="#222" stroke-width="0.22" textLength="69.4" lengthAdjust="spacingAndGlyphs" transform="translate(371.17 597.8) rotate(-90)">Percent cd41:GFP-Hi cells</text>
<text x="353.8" y="550.2" font-size="11.5" text-anchor="start" fill="#111" font-weight="bold" >L</text>
</svg>
</body></html>
